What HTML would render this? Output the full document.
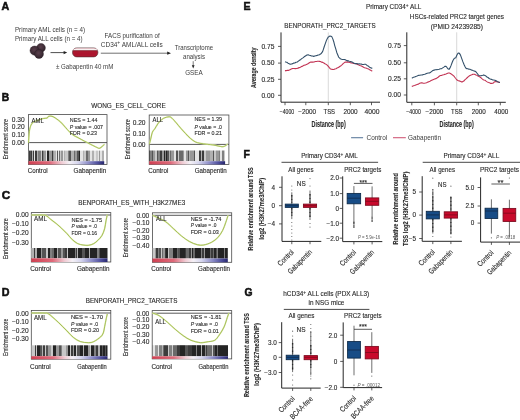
<!DOCTYPE html><html><head><meta charset="utf-8"><style>html,body{margin:0;padding:0;background:#fff;}svg{display:block;will-change:transform;filter:blur(0.4px);}text{font-family:"Liberation Sans",sans-serif;fill:#2a2a2a;stroke:#2a2a2a;stroke-width:0.12px;}.lt{fill:#3c3c3c;stroke:none;}.lt2{fill:#5a5a5a;stroke:none;}</style></head><body>
<svg width="520" height="420" viewBox="0 0 520 420">
<defs><linearGradient id="cb" x1="0" x2="1" y1="0" y2="0"><stop offset="0" stop-color="#cf4052"/><stop offset="0.28" stop-color="#de6a7a"/><stop offset="0.44" stop-color="#f0ccd4"/><stop offset="0.54" stop-color="#f5f1f6"/><stop offset="0.65" stop-color="#d6d6ee"/><stop offset="0.8" stop-color="#8a8ac6"/><stop offset="0.92" stop-color="#4c4c9a"/><stop offset="1" stop-color="#26266c"/></linearGradient><radialGradient id="cellg" cx="0.45" cy="0.4" r="0.65"><stop offset="0" stop-color="#5a3f4c"/><stop offset="0.7" stop-color="#3a2a33"/><stop offset="1" stop-color="#2a1c24"/></radialGradient></defs>
<rect width="520" height="420" fill="#fff"/>
<text x="1.39" y="9.55" font-size="10.70" font-weight="bold" style="fill:#111;stroke:#111;stroke-width:0.55px">A</text>
<text x="1.69" y="100.85" font-size="10.29" font-weight="bold" style="fill:#111;stroke:#111;stroke-width:0.55px">B</text>
<text x="1.67" y="199.25" font-size="11.66" font-weight="bold" style="fill:#111;stroke:#111;stroke-width:0.55px">C</text>
<text x="1.69" y="296.35" font-size="10.70" font-weight="bold" style="fill:#111;stroke:#111;stroke-width:0.55px">D</text>
<text x="243.39" y="10.35" font-size="10.56" font-weight="bold" style="fill:#111;stroke:#111;stroke-width:0.55px">E</text>
<text x="243.49" y="157.65" font-size="10.43" font-weight="bold" style="fill:#111;stroke:#111;stroke-width:0.55px">F</text>
<text x="244.39" y="296.45" font-size="10.29" font-weight="bold" style="fill:#111;stroke:#111;stroke-width:0.55px">G</text>
<text x="14.90" y="32.00" font-size="6.3" textLength="70.20" lengthAdjust="spacingAndGlyphs" class="lt">Primary AML cells (n = 4)</text>
<text x="14.90" y="40.50" font-size="6.3" textLength="67.70" lengthAdjust="spacingAndGlyphs" class="lt">Primary ALL cells (n = 4)</text>
<circle cx="41.0" cy="47.8" r="4.4" fill="url(#cellg)" stroke="#2a1f27" stroke-width="0.4"/>
<circle cx="34.6" cy="50.6" r="4.6" fill="url(#cellg)" stroke="#2a1f27" stroke-width="0.4"/>
<circle cx="39.0" cy="54.0" r="4.5" fill="url(#cellg)" stroke="#2a1f27" stroke-width="0.4"/>
<line x1="50.50" y1="52.60" x2="64.50" y2="52.60" stroke="#222" stroke-width="0.8"/>
<path d="M67.2,52.6 L63.6,51.0 L63.6,54.2 Z" fill="#222"/>
<rect x="72.5" y="47.9" width="25.4" height="9.0" rx="4.3" ry="4.3" fill="#ae1830" stroke="#4a2a2e" stroke-width="0.6"/>
<path d="M76.8,48.2 L93.6,48.2 Q97.3,48.4 97.6,50.6 L72.8,50.6 Q73.1,48.4 76.8,48.2 Z" fill="#f6f2f2"/>
<line x1="72.9" y1="50.7" x2="97.5" y2="50.7" stroke="#6a1822" stroke-width="0.6"/>
<rect x="74.5" y="52.6" width="21.5" height="2.6" fill="#a8102a" opacity="0.5"/>
<line x1="100.80" y1="53.20" x2="168.00" y2="53.20" stroke="#333" stroke-width="0.7"/>
<path d="M171.0,53.2 L167.2,51.6 L167.2,54.8 Z" fill="#222"/>
<text x="104.60" y="38.00" font-size="6.3" textLength="55.10" lengthAdjust="spacingAndGlyphs" class="lt">FACS purification of</text>
<text x="100.80" y="46.50" font-size="6.3" textLength="62.00" lengthAdjust="spacingAndGlyphs" class="lt">CD34<tspan font-size="4.8" dy="-2.1">+</tspan><tspan dy="2.1"> AML/ALL cells</tspan></text>
<text x="56.00" y="69.20" font-size="6.3" textLength="57.30" lengthAdjust="spacingAndGlyphs" class="lt">± Gabapentin 40 mM</text>
<text x="174.80" y="50.20" font-size="6.3" textLength="38.20" lengthAdjust="spacingAndGlyphs" class="lt">Transcriptome</text>
<text x="183.00" y="58.60" font-size="6.3" textLength="22.00" lengthAdjust="spacingAndGlyphs" class="lt">analysis</text>
<line x1="193.20" y1="61.20" x2="193.20" y2="66.00" stroke="#222" stroke-width="0.6"/>
<path d="M193.2,68.4 L191.8,65.3 L194.6,65.3 Z" fill="#222"/>
<text x="185.20" y="75.20" font-size="6.3" textLength="17.50" lengthAdjust="spacingAndGlyphs" class="lt">GSEA</text>
<rect x="28.50" y="114.60" width="78.50" height="49.90" fill="none" stroke="#4a4a4a" stroke-width="0.8"/>
<rect x="28.50" y="150.60" width="0.50" height="10.60" fill="#808080"/>
<rect x="29.00" y="150.60" width="1.00" height="10.60" fill="#3c3c3c"/>
<rect x="30.00" y="150.60" width="1.00" height="10.60" fill="#545454"/>
<rect x="31.00" y="150.60" width="1.00" height="10.60" fill="#3c3c3c"/>
<rect x="32.00" y="150.60" width="1.00" height="10.60" fill="#b0b0b0"/>
<rect x="33.00" y="150.60" width="1.00" height="10.60" fill="#3c3c3c"/>
<rect x="34.00" y="150.60" width="1.00" height="10.60" fill="#e4e4e4"/>
<rect x="35.00" y="150.60" width="1.00" height="10.60" fill="#3c3c3c"/>
<rect x="36.00" y="150.60" width="1.00" height="10.60" fill="#3c3c3c"/>
<rect x="37.00" y="150.60" width="1.00" height="10.60" fill="#b0b0b0"/>
<rect x="38.00" y="150.60" width="1.00" height="10.60" fill="#808080"/>
<rect x="39.00" y="150.60" width="1.00" height="10.60" fill="#808080"/>
<rect x="40.00" y="150.60" width="1.00" height="10.60" fill="#808080"/>
<rect x="41.00" y="150.60" width="1.00" height="10.60" fill="#c8c8c8"/>
<rect x="42.00" y="150.60" width="1.00" height="10.60" fill="#3c3c3c"/>
<rect x="43.00" y="150.60" width="1.00" height="10.60" fill="#808080"/>
<rect x="44.00" y="150.60" width="1.00" height="10.60" fill="#989898"/>
<rect x="45.00" y="150.60" width="1.00" height="10.60" fill="#989898"/>
<rect x="46.00" y="150.60" width="1.00" height="10.60" fill="#e4e4e4"/>
<rect x="47.00" y="150.60" width="1.00" height="10.60" fill="#242424"/>
<rect x="48.00" y="150.60" width="1.00" height="10.60" fill="#242424"/>
<rect x="49.00" y="150.60" width="1.00" height="10.60" fill="#989898"/>
<rect x="50.00" y="150.60" width="1.00" height="10.60" fill="#989898"/>
<rect x="51.00" y="150.60" width="1.00" height="10.60" fill="#989898"/>
<rect x="52.00" y="150.60" width="1.00" height="10.60" fill="#3c3c3c"/>
<rect x="53.00" y="150.60" width="1.00" height="10.60" fill="#989898"/>
<rect x="54.00" y="150.60" width="1.00" height="10.60" fill="#b0b0b0"/>
<rect x="55.00" y="150.60" width="1.00" height="10.60" fill="#b0b0b0"/>
<rect x="56.00" y="150.60" width="1.00" height="10.60" fill="#e4e4e4"/>
<rect x="57.00" y="150.60" width="1.00" height="10.60" fill="#545454"/>
<rect x="58.00" y="150.60" width="1.00" height="10.60" fill="#e4e4e4"/>
<rect x="59.00" y="150.60" width="1.00" height="10.60" fill="#6a6a6a"/>
<rect x="60.00" y="150.60" width="1.00" height="10.60" fill="#c8c8c8"/>
<rect x="61.00" y="150.60" width="1.00" height="10.60" fill="#989898"/>
<rect x="62.00" y="150.60" width="1.00" height="10.60" fill="#989898"/>
<rect x="63.00" y="150.60" width="1.00" height="10.60" fill="#e4e4e4"/>
<rect x="64.00" y="150.60" width="1.00" height="10.60" fill="#b0b0b0"/>
<rect x="65.00" y="150.60" width="1.00" height="10.60" fill="#c8c8c8"/>
<rect x="66.00" y="150.60" width="1.00" height="10.60" fill="#c8c8c8"/>
<rect x="67.00" y="150.60" width="1.00" height="10.60" fill="#c8c8c8"/>
<rect x="68.00" y="150.60" width="1.00" height="10.60" fill="#808080"/>
<rect x="69.00" y="150.60" width="1.00" height="10.60" fill="#545454"/>
<rect x="70.00" y="150.60" width="1.00" height="10.60" fill="#545454"/>
<rect x="71.00" y="150.60" width="1.00" height="10.60" fill="#b0b0b0"/>
<rect x="72.00" y="150.60" width="1.00" height="10.60" fill="#b0b0b0"/>
<rect x="73.00" y="150.60" width="1.00" height="10.60" fill="#b0b0b0"/>
<rect x="74.00" y="150.60" width="1.00" height="10.60" fill="#6a6a6a"/>
<rect x="75.00" y="150.60" width="1.00" height="10.60" fill="#989898"/>
<rect x="76.00" y="150.60" width="1.00" height="10.60" fill="#989898"/>
<rect x="77.00" y="150.60" width="1.00" height="10.60" fill="#545454"/>
<rect x="78.00" y="150.60" width="1.00" height="10.60" fill="#545454"/>
<rect x="79.00" y="150.60" width="1.00" height="10.60" fill="#242424"/>
<rect x="80.00" y="150.60" width="1.00" height="10.60" fill="#e4e4e4"/>
<rect x="81.00" y="150.60" width="1.00" height="10.60" fill="#e4e4e4"/>
<rect x="82.00" y="150.60" width="1.00" height="10.60" fill="#e4e4e4"/>
<rect x="83.00" y="150.60" width="1.00" height="10.60" fill="#b0b0b0"/>
<rect x="84.00" y="150.60" width="1.00" height="10.60" fill="#c8c8c8"/>
<rect x="85.00" y="150.60" width="1.00" height="10.60" fill="#c8c8c8"/>
<rect x="86.00" y="150.60" width="1.00" height="10.60" fill="#6a6a6a"/>
<rect x="87.00" y="150.60" width="1.00" height="10.60" fill="#6a6a6a"/>
<rect x="88.00" y="150.60" width="1.00" height="10.60" fill="#989898"/>
<rect x="89.00" y="150.60" width="1.00" height="10.60" fill="#989898"/>
<rect x="90.00" y="150.60" width="1.00" height="10.60" fill="#e4e4e4"/>
<rect x="91.00" y="150.60" width="1.00" height="10.60" fill="#e4e4e4"/>
<rect x="92.00" y="150.60" width="1.00" height="10.60" fill="#b0b0b0"/>
<rect x="93.00" y="150.60" width="1.00" height="10.60" fill="#b0b0b0"/>
<rect x="94.00" y="150.60" width="1.00" height="10.60" fill="#e4e4e4"/>
<rect x="95.00" y="150.60" width="1.00" height="10.60" fill="#e4e4e4"/>
<rect x="96.00" y="150.60" width="1.00" height="10.60" fill="#c8c8c8"/>
<rect x="97.00" y="150.60" width="1.00" height="10.60" fill="#c8c8c8"/>
<rect x="98.00" y="150.60" width="1.00" height="10.60" fill="#e4e4e4"/>
<rect x="99.00" y="150.60" width="1.00" height="10.60" fill="#989898"/>
<rect x="100.00" y="150.60" width="1.00" height="10.60" fill="#e4e4e4"/>
<rect x="101.00" y="150.60" width="1.00" height="10.60" fill="#e4e4e4"/>
<rect x="102.00" y="150.60" width="1.00" height="10.60" fill="#b0b0b0"/>
<rect x="103.00" y="150.60" width="1.00" height="10.60" fill="#b0b0b0"/>
<rect x="28.50" y="161.20" width="75.70" height="3.30" fill="url(#cb)"/>
<line x1="28.50" y1="142.60" x2="107.00" y2="142.60" stroke="#3a3a3a" stroke-width="0.85"/>
<path d="M28.50,142.80 C28.65,140.87 29.02,134.08 29.40,131.20 C29.78,128.32 30.23,126.93 30.80,125.50 C31.37,124.07 31.98,123.33 32.80,122.60 C33.62,121.87 34.58,121.58 35.70,121.10 C36.82,120.62 38.23,120.13 39.50,119.70 C40.77,119.27 42.02,118.78 43.30,118.50 C44.58,118.22 46.32,118.37 47.20,118.00 C48.08,117.63 47.80,116.58 48.60,116.30 C49.40,116.02 50.80,115.97 52.00,116.30 C53.20,116.63 54.35,117.33 55.80,118.30 C57.25,119.27 59.08,120.58 60.70,122.10 C62.32,123.62 64.07,125.80 65.50,127.40 C66.93,129.00 68.02,130.42 69.30,131.70 C70.58,132.98 71.70,134.08 73.20,135.10 C74.70,136.12 76.42,136.78 78.30,137.80 C80.18,138.82 82.45,140.12 84.50,141.20 C86.55,142.28 88.55,143.27 90.60,144.30 C92.65,145.33 95.27,146.75 96.80,147.40 C98.33,148.05 98.52,148.72 99.80,148.20 C101.08,147.68 103.72,144.95 104.50,144.30" fill="none" stroke="#e0eab0" stroke-width="1.5" stroke-linejoin="round"/>
<path d="M28.50,142.80 C28.65,140.87 29.02,134.08 29.40,131.20 C29.78,128.32 30.23,126.93 30.80,125.50 C31.37,124.07 31.98,123.33 32.80,122.60 C33.62,121.87 34.58,121.58 35.70,121.10 C36.82,120.62 38.23,120.13 39.50,119.70 C40.77,119.27 42.02,118.78 43.30,118.50 C44.58,118.22 46.32,118.37 47.20,118.00 C48.08,117.63 47.80,116.58 48.60,116.30 C49.40,116.02 50.80,115.97 52.00,116.30 C53.20,116.63 54.35,117.33 55.80,118.30 C57.25,119.27 59.08,120.58 60.70,122.10 C62.32,123.62 64.07,125.80 65.50,127.40 C66.93,129.00 68.02,130.42 69.30,131.70 C70.58,132.98 71.70,134.08 73.20,135.10 C74.70,136.12 76.42,136.78 78.30,137.80 C80.18,138.82 82.45,140.12 84.50,141.20 C86.55,142.28 88.55,143.27 90.60,144.30 C92.65,145.33 95.27,146.75 96.80,147.40 C98.33,148.05 98.52,148.72 99.80,148.20 C101.08,147.68 103.72,144.95 104.50,144.30" fill="none" stroke="#92b03e" stroke-width="0.75" stroke-linejoin="round"/>
<text x="24.70" y="121.68" font-size="6.6" text-anchor="end">0.30</text>
<text x="24.70" y="129.48" font-size="6.6" text-anchor="end">0.20</text>
<text x="24.70" y="137.28" font-size="6.6" text-anchor="end">0.10</text>
<text x="24.70" y="145.08" font-size="6.6" text-anchor="end">0.00</text>
<text x="31.50" y="122.80" font-size="6.4" textLength="12.20" lengthAdjust="spacingAndGlyphs">AML</text>
<text x="69.80" y="121.86" font-size="6.0" textLength="27.70" lengthAdjust="spacingAndGlyphs">NES = 1.44</text>
<text x="69.80" y="128.76" font-size="6.0" textLength="33.10" lengthAdjust="spacingAndGlyphs"><tspan font-style="italic">P</tspan> value = .007</text>
<text x="69.80" y="134.96" font-size="6.0" textLength="27.20" lengthAdjust="spacingAndGlyphs">FDR = 0.23</text>
<text x="27.80" y="173.00" font-size="6.4" textLength="19.90" lengthAdjust="spacingAndGlyphs">Control</text>
<text x="73.60" y="173.00" font-size="6.4" textLength="32.60" lengthAdjust="spacingAndGlyphs">Gabapentin</text>
<text transform="translate(4.80,139.35) rotate(-90)" x="0" y="2.88" font-size="8.0" text-anchor="middle" textLength="40.30" lengthAdjust="spacingAndGlyphs" fill="#2b2b2b">Enrichment score</text>
<rect x="149.20" y="115.00" width="79.70" height="49.50" fill="none" stroke="#4a4a4a" stroke-width="0.8"/>
<rect x="149.20" y="150.50" width="0.80" height="10.70" fill="#3c3c3c"/>
<rect x="150.00" y="150.50" width="1.00" height="10.70" fill="#808080"/>
<rect x="151.00" y="150.50" width="1.00" height="10.70" fill="#808080"/>
<rect x="152.00" y="150.50" width="1.00" height="10.70" fill="#545454"/>
<rect x="153.00" y="150.50" width="1.00" height="10.70" fill="#989898"/>
<rect x="154.00" y="150.50" width="1.00" height="10.70" fill="#989898"/>
<rect x="155.00" y="150.50" width="1.00" height="10.70" fill="#c8c8c8"/>
<rect x="156.00" y="150.50" width="1.00" height="10.70" fill="#c8c8c8"/>
<rect x="157.00" y="150.50" width="1.00" height="10.70" fill="#545454"/>
<rect x="158.00" y="150.50" width="1.00" height="10.70" fill="#808080"/>
<rect x="159.00" y="150.50" width="1.00" height="10.70" fill="#808080"/>
<rect x="160.00" y="150.50" width="1.00" height="10.70" fill="#3c3c3c"/>
<rect x="161.00" y="150.50" width="1.00" height="10.70" fill="#3c3c3c"/>
<rect x="162.00" y="150.50" width="1.00" height="10.70" fill="#989898"/>
<rect x="163.00" y="150.50" width="1.00" height="10.70" fill="#989898"/>
<rect x="164.00" y="150.50" width="1.00" height="10.70" fill="#242424"/>
<rect x="165.00" y="150.50" width="1.00" height="10.70" fill="#808080"/>
<rect x="166.00" y="150.50" width="1.00" height="10.70" fill="#242424"/>
<rect x="167.00" y="150.50" width="1.00" height="10.70" fill="#545454"/>
<rect x="168.00" y="150.50" width="1.00" height="10.70" fill="#545454"/>
<rect x="169.00" y="150.50" width="1.00" height="10.70" fill="#b0b0b0"/>
<rect x="170.00" y="150.50" width="1.00" height="10.70" fill="#6a6a6a"/>
<rect x="171.00" y="150.50" width="1.00" height="10.70" fill="#989898"/>
<rect x="172.00" y="150.50" width="1.00" height="10.70" fill="#989898"/>
<rect x="173.00" y="150.50" width="1.00" height="10.70" fill="#989898"/>
<rect x="174.00" y="150.50" width="1.00" height="10.70" fill="#e4e4e4"/>
<rect x="175.00" y="150.50" width="1.00" height="10.70" fill="#e4e4e4"/>
<rect x="176.00" y="150.50" width="1.00" height="10.70" fill="#545454"/>
<rect x="177.00" y="150.50" width="1.00" height="10.70" fill="#545454"/>
<rect x="178.00" y="150.50" width="1.00" height="10.70" fill="#c8c8c8"/>
<rect x="179.00" y="150.50" width="1.00" height="10.70" fill="#6a6a6a"/>
<rect x="180.00" y="150.50" width="1.00" height="10.70" fill="#6a6a6a"/>
<rect x="181.00" y="150.50" width="1.00" height="10.70" fill="#6a6a6a"/>
<rect x="182.00" y="150.50" width="1.00" height="10.70" fill="#6a6a6a"/>
<rect x="183.00" y="150.50" width="1.00" height="10.70" fill="#989898"/>
<rect x="184.00" y="150.50" width="1.00" height="10.70" fill="#e4e4e4"/>
<rect x="185.00" y="150.50" width="1.00" height="10.70" fill="#e4e4e4"/>
<rect x="186.00" y="150.50" width="1.00" height="10.70" fill="#989898"/>
<rect x="187.00" y="150.50" width="1.00" height="10.70" fill="#989898"/>
<rect x="188.00" y="150.50" width="1.00" height="10.70" fill="#545454"/>
<rect x="189.00" y="150.50" width="1.00" height="10.70" fill="#b0b0b0"/>
<rect x="190.00" y="150.50" width="1.00" height="10.70" fill="#989898"/>
<rect x="191.00" y="150.50" width="1.00" height="10.70" fill="#989898"/>
<rect x="192.00" y="150.50" width="1.00" height="10.70" fill="#989898"/>
<rect x="193.00" y="150.50" width="1.00" height="10.70" fill="#989898"/>
<rect x="194.00" y="150.50" width="1.00" height="10.70" fill="#545454"/>
<rect x="195.00" y="150.50" width="1.00" height="10.70" fill="#e4e4e4"/>
<rect x="196.00" y="150.50" width="1.00" height="10.70" fill="#e4e4e4"/>
<rect x="197.00" y="150.50" width="1.00" height="10.70" fill="#e4e4e4"/>
<rect x="198.00" y="150.50" width="1.00" height="10.70" fill="#e4e4e4"/>
<rect x="199.00" y="150.50" width="1.00" height="10.70" fill="#3c3c3c"/>
<rect x="200.00" y="150.50" width="1.00" height="10.70" fill="#3c3c3c"/>
<rect x="201.00" y="150.50" width="1.00" height="10.70" fill="#b0b0b0"/>
<rect x="202.00" y="150.50" width="1.00" height="10.70" fill="#3c3c3c"/>
<rect x="203.00" y="150.50" width="1.00" height="10.70" fill="#3c3c3c"/>
<rect x="204.00" y="150.50" width="1.00" height="10.70" fill="#c8c8c8"/>
<rect x="205.00" y="150.50" width="1.00" height="10.70" fill="#c8c8c8"/>
<rect x="206.00" y="150.50" width="1.00" height="10.70" fill="#989898"/>
<rect x="207.00" y="150.50" width="1.00" height="10.70" fill="#989898"/>
<rect x="208.00" y="150.50" width="1.00" height="10.70" fill="#989898"/>
<rect x="209.00" y="150.50" width="1.00" height="10.70" fill="#989898"/>
<rect x="210.00" y="150.50" width="1.00" height="10.70" fill="#b0b0b0"/>
<rect x="211.00" y="150.50" width="1.00" height="10.70" fill="#b0b0b0"/>
<rect x="212.00" y="150.50" width="1.00" height="10.70" fill="#b0b0b0"/>
<rect x="213.00" y="150.50" width="1.00" height="10.70" fill="#545454"/>
<rect x="214.00" y="150.50" width="1.00" height="10.70" fill="#c8c8c8"/>
<rect x="215.00" y="150.50" width="1.00" height="10.70" fill="#c8c8c8"/>
<rect x="216.00" y="150.50" width="1.00" height="10.70" fill="#989898"/>
<rect x="217.00" y="150.50" width="1.00" height="10.70" fill="#989898"/>
<rect x="218.00" y="150.50" width="1.00" height="10.70" fill="#989898"/>
<rect x="219.00" y="150.50" width="1.00" height="10.70" fill="#808080"/>
<rect x="220.00" y="150.50" width="1.00" height="10.70" fill="#e4e4e4"/>
<rect x="221.00" y="150.50" width="1.00" height="10.70" fill="#e4e4e4"/>
<rect x="222.00" y="150.50" width="1.00" height="10.70" fill="#808080"/>
<rect x="223.00" y="150.50" width="1.00" height="10.70" fill="#808080"/>
<rect x="224.00" y="150.50" width="1.00" height="10.70" fill="#c8c8c8"/>
<rect x="149.20" y="161.20" width="75.90" height="3.30" fill="url(#cb)"/>
<line x1="149.20" y1="144.40" x2="228.90" y2="144.40" stroke="#3a3a3a" stroke-width="0.85"/>
<path d="M149.30,144.30 C149.50,143.57 149.98,141.92 150.50,139.90 C151.02,137.88 151.68,134.05 152.40,132.20 C153.12,130.35 153.92,130.17 154.80,128.80 C155.68,127.43 156.90,125.20 157.70,124.00 C158.50,122.80 158.63,122.55 159.60,121.60 C160.57,120.65 161.90,119.10 163.50,118.30 C165.10,117.50 167.77,116.80 169.20,116.80 C170.63,116.80 170.97,117.33 172.10,118.30 C173.23,119.27 174.55,120.93 176.00,122.60 C177.45,124.27 179.20,126.47 180.80,128.30 C182.40,130.13 184.00,131.92 185.60,133.60 C187.20,135.28 188.80,137.03 190.40,138.40 C192.00,139.77 193.60,140.98 195.20,141.80 C196.80,142.62 197.97,142.88 200.00,143.30 C202.03,143.72 205.08,144.00 207.40,144.30 C209.72,144.60 211.48,144.70 213.90,145.10 C216.32,145.50 220.02,146.57 221.90,146.70 C223.78,146.83 224.25,146.35 225.20,145.90 C226.15,145.45 227.20,144.32 227.60,144.00" fill="none" stroke="#e0eab0" stroke-width="1.5" stroke-linejoin="round"/>
<path d="M149.30,144.30 C149.50,143.57 149.98,141.92 150.50,139.90 C151.02,137.88 151.68,134.05 152.40,132.20 C153.12,130.35 153.92,130.17 154.80,128.80 C155.68,127.43 156.90,125.20 157.70,124.00 C158.50,122.80 158.63,122.55 159.60,121.60 C160.57,120.65 161.90,119.10 163.50,118.30 C165.10,117.50 167.77,116.80 169.20,116.80 C170.63,116.80 170.97,117.33 172.10,118.30 C173.23,119.27 174.55,120.93 176.00,122.60 C177.45,124.27 179.20,126.47 180.80,128.30 C182.40,130.13 184.00,131.92 185.60,133.60 C187.20,135.28 188.80,137.03 190.40,138.40 C192.00,139.77 193.60,140.98 195.20,141.80 C196.80,142.62 197.97,142.88 200.00,143.30 C202.03,143.72 205.08,144.00 207.40,144.30 C209.72,144.60 211.48,144.70 213.90,145.10 C216.32,145.50 220.02,146.57 221.90,146.70 C223.78,146.83 224.25,146.35 225.20,145.90 C226.15,145.45 227.20,144.32 227.60,144.00" fill="none" stroke="#92b03e" stroke-width="0.75" stroke-linejoin="round"/>
<text x="145.50" y="125.38" font-size="6.6" text-anchor="end">0.20</text>
<text x="145.50" y="136.08" font-size="6.6" text-anchor="end">0.10</text>
<text x="145.50" y="146.68" font-size="6.6" text-anchor="end">0.00</text>
<text x="152.50" y="122.30" font-size="6.4" textLength="10.50" lengthAdjust="spacingAndGlyphs">ALL</text>
<text x="194.50" y="121.46" font-size="6.0" textLength="27.40" lengthAdjust="spacingAndGlyphs">NES = 1.39</text>
<text x="194.50" y="128.66" font-size="6.0" textLength="27.40" lengthAdjust="spacingAndGlyphs"><tspan font-style="italic">P</tspan> value = .0</text>
<text x="194.50" y="134.86" font-size="6.0" textLength="27.40" lengthAdjust="spacingAndGlyphs">FDR = 0.21</text>
<text x="148.20" y="172.90" font-size="6.4" textLength="20.10" lengthAdjust="spacingAndGlyphs">Control</text>
<text x="194.80" y="172.90" font-size="6.4" textLength="32.00" lengthAdjust="spacingAndGlyphs">Gabapentin</text>
<text transform="translate(127.20,139.50) rotate(-90)" x="0" y="2.88" font-size="8.0" text-anchor="middle" textLength="40.00" lengthAdjust="spacingAndGlyphs" fill="#2b2b2b">Enrichment score</text>
<rect x="31.30" y="212.60" width="79.50" height="49.40" fill="none" stroke="#4a4a4a" stroke-width="0.8"/>
<rect x="31.30" y="248.00" width="0.70" height="10.30" fill="#b0b0b0"/>
<rect x="32.00" y="248.00" width="1.00" height="10.30" fill="#b0b0b0"/>
<rect x="33.00" y="248.00" width="1.00" height="10.30" fill="#b0b0b0"/>
<rect x="34.00" y="248.00" width="1.00" height="10.30" fill="#3c3c3c"/>
<rect x="35.00" y="248.00" width="1.00" height="10.30" fill="#b0b0b0"/>
<rect x="36.00" y="248.00" width="1.00" height="10.30" fill="#b0b0b0"/>
<rect x="37.00" y="248.00" width="1.00" height="10.30" fill="#242424"/>
<rect x="38.00" y="248.00" width="1.00" height="10.30" fill="#242424"/>
<rect x="39.00" y="248.00" width="1.00" height="10.30" fill="#242424"/>
<rect x="40.00" y="248.00" width="1.00" height="10.30" fill="#242424"/>
<rect x="41.00" y="248.00" width="1.00" height="10.30" fill="#989898"/>
<rect x="42.00" y="248.00" width="1.00" height="10.30" fill="#545454"/>
<rect x="43.00" y="248.00" width="1.00" height="10.30" fill="#545454"/>
<rect x="44.00" y="248.00" width="1.00" height="10.30" fill="#545454"/>
<rect x="45.00" y="248.00" width="1.00" height="10.30" fill="#545454"/>
<rect x="46.00" y="248.00" width="1.00" height="10.30" fill="#c8c8c8"/>
<rect x="47.00" y="248.00" width="1.00" height="10.30" fill="#c8c8c8"/>
<rect x="48.00" y="248.00" width="1.00" height="10.30" fill="#242424"/>
<rect x="49.00" y="248.00" width="1.00" height="10.30" fill="#242424"/>
<rect x="50.00" y="248.00" width="1.00" height="10.30" fill="#808080"/>
<rect x="51.00" y="248.00" width="1.00" height="10.30" fill="#808080"/>
<rect x="52.00" y="248.00" width="1.00" height="10.30" fill="#6a6a6a"/>
<rect x="53.00" y="248.00" width="1.00" height="10.30" fill="#6a6a6a"/>
<rect x="54.00" y="248.00" width="1.00" height="10.30" fill="#242424"/>
<rect x="55.00" y="248.00" width="1.00" height="10.30" fill="#242424"/>
<rect x="56.00" y="248.00" width="1.00" height="10.30" fill="#242424"/>
<rect x="57.00" y="248.00" width="1.00" height="10.30" fill="#b0b0b0"/>
<rect x="58.00" y="248.00" width="1.00" height="10.30" fill="#545454"/>
<rect x="59.00" y="248.00" width="1.00" height="10.30" fill="#545454"/>
<rect x="60.00" y="248.00" width="1.00" height="10.30" fill="#545454"/>
<rect x="61.00" y="248.00" width="1.00" height="10.30" fill="#989898"/>
<rect x="62.00" y="248.00" width="1.00" height="10.30" fill="#989898"/>
<rect x="63.00" y="248.00" width="1.00" height="10.30" fill="#545454"/>
<rect x="64.00" y="248.00" width="1.00" height="10.30" fill="#545454"/>
<rect x="65.00" y="248.00" width="1.00" height="10.30" fill="#3c3c3c"/>
<rect x="66.00" y="248.00" width="1.00" height="10.30" fill="#3c3c3c"/>
<rect x="67.00" y="248.00" width="1.00" height="10.30" fill="#c8c8c8"/>
<rect x="68.00" y="248.00" width="1.00" height="10.30" fill="#242424"/>
<rect x="69.00" y="248.00" width="1.00" height="10.30" fill="#242424"/>
<rect x="70.00" y="248.00" width="1.00" height="10.30" fill="#242424"/>
<rect x="71.00" y="248.00" width="1.00" height="10.30" fill="#242424"/>
<rect x="72.00" y="248.00" width="1.00" height="10.30" fill="#242424"/>
<rect x="73.00" y="248.00" width="1.00" height="10.30" fill="#242424"/>
<rect x="74.00" y="248.00" width="1.00" height="10.30" fill="#242424"/>
<rect x="75.00" y="248.00" width="1.00" height="10.30" fill="#808080"/>
<rect x="76.00" y="248.00" width="1.00" height="10.30" fill="#3c3c3c"/>
<rect x="77.00" y="248.00" width="1.00" height="10.30" fill="#b0b0b0"/>
<rect x="78.00" y="248.00" width="1.00" height="10.30" fill="#242424"/>
<rect x="79.00" y="248.00" width="1.00" height="10.30" fill="#242424"/>
<rect x="80.00" y="248.00" width="1.00" height="10.30" fill="#242424"/>
<rect x="81.00" y="248.00" width="1.00" height="10.30" fill="#242424"/>
<rect x="82.00" y="248.00" width="1.00" height="10.30" fill="#545454"/>
<rect x="83.00" y="248.00" width="1.00" height="10.30" fill="#545454"/>
<rect x="84.00" y="248.00" width="1.00" height="10.30" fill="#545454"/>
<rect x="85.00" y="248.00" width="1.00" height="10.30" fill="#242424"/>
<rect x="86.00" y="248.00" width="1.00" height="10.30" fill="#242424"/>
<rect x="87.00" y="248.00" width="1.00" height="10.30" fill="#242424"/>
<rect x="88.00" y="248.00" width="1.00" height="10.30" fill="#242424"/>
<rect x="89.00" y="248.00" width="1.00" height="10.30" fill="#b0b0b0"/>
<rect x="90.00" y="248.00" width="1.00" height="10.30" fill="#242424"/>
<rect x="91.00" y="248.00" width="1.00" height="10.30" fill="#242424"/>
<rect x="92.00" y="248.00" width="1.00" height="10.30" fill="#242424"/>
<rect x="93.00" y="248.00" width="1.00" height="10.30" fill="#242424"/>
<rect x="94.00" y="248.00" width="1.00" height="10.30" fill="#242424"/>
<rect x="95.00" y="248.00" width="1.00" height="10.30" fill="#242424"/>
<rect x="96.00" y="248.00" width="1.00" height="10.30" fill="#242424"/>
<rect x="97.00" y="248.00" width="1.00" height="10.30" fill="#808080"/>
<rect x="98.00" y="248.00" width="1.00" height="10.30" fill="#808080"/>
<rect x="99.00" y="248.00" width="1.00" height="10.30" fill="#545454"/>
<rect x="100.00" y="248.00" width="1.00" height="10.30" fill="#242424"/>
<rect x="101.00" y="248.00" width="1.00" height="10.30" fill="#242424"/>
<rect x="102.00" y="248.00" width="1.00" height="10.30" fill="#242424"/>
<rect x="103.00" y="248.00" width="1.00" height="10.30" fill="#242424"/>
<rect x="104.00" y="248.00" width="1.00" height="10.30" fill="#242424"/>
<rect x="105.00" y="248.00" width="1.00" height="10.30" fill="#242424"/>
<rect x="106.00" y="248.00" width="1.00" height="10.30" fill="#242424"/>
<rect x="107.00" y="248.00" width="0.50" height="10.30" fill="#242424"/>
<rect x="31.30" y="258.30" width="76.20" height="3.70" fill="url(#cb)"/>
<line x1="31.30" y1="215.00" x2="110.80" y2="215.00" stroke="#3a3a3a" stroke-width="0.85"/>
<path d="M31.30,215.00 C33.08,215.00 39.55,214.92 42.00,215.00 C44.45,215.08 44.53,214.77 46.00,215.50 C47.47,216.23 49.10,218.07 50.80,219.40 C52.50,220.73 54.42,222.03 56.20,223.50 C57.98,224.97 59.72,226.52 61.50,228.20 C63.28,229.88 65.10,231.70 66.90,233.60 C68.70,235.50 70.50,237.93 72.30,239.60 C74.10,241.27 75.90,242.70 77.70,243.60 C79.50,244.50 81.30,244.72 83.10,245.00 C84.90,245.28 86.72,245.53 88.50,245.30 C90.28,245.07 92.23,244.43 93.80,243.60 C95.37,242.77 96.55,241.63 97.90,240.30 C99.25,238.97 100.78,237.52 101.90,235.60 C103.02,233.68 103.92,231.27 104.60,228.80 C105.28,226.33 105.55,223.15 106.00,220.80 C106.45,218.45 107.08,215.72 107.30,214.70" fill="none" stroke="#e0eab0" stroke-width="1.5" stroke-linejoin="round"/>
<path d="M31.30,215.00 C33.08,215.00 39.55,214.92 42.00,215.00 C44.45,215.08 44.53,214.77 46.00,215.50 C47.47,216.23 49.10,218.07 50.80,219.40 C52.50,220.73 54.42,222.03 56.20,223.50 C57.98,224.97 59.72,226.52 61.50,228.20 C63.28,229.88 65.10,231.70 66.90,233.60 C68.70,235.50 70.50,237.93 72.30,239.60 C74.10,241.27 75.90,242.70 77.70,243.60 C79.50,244.50 81.30,244.72 83.10,245.00 C84.90,245.28 86.72,245.53 88.50,245.30 C90.28,245.07 92.23,244.43 93.80,243.60 C95.37,242.77 96.55,241.63 97.90,240.30 C99.25,238.97 100.78,237.52 101.90,235.60 C103.02,233.68 103.92,231.27 104.60,228.80 C105.28,226.33 105.55,223.15 106.00,220.80 C106.45,218.45 107.08,215.72 107.30,214.70" fill="none" stroke="#92b03e" stroke-width="0.75" stroke-linejoin="round"/>
<text x="28.60" y="217.28" font-size="6.6" text-anchor="end">0.00</text>
<text x="28.60" y="226.38" font-size="6.6" text-anchor="end">−0.10</text>
<text x="28.60" y="235.28" font-size="6.6" text-anchor="end">−0.20</text>
<text x="28.60" y="244.78" font-size="6.6" text-anchor="end">−0.30</text>
<text x="34.00" y="221.30" font-size="6.4" textLength="12.90" lengthAdjust="spacingAndGlyphs">AML</text>
<text x="71.40" y="221.56" font-size="6.0" textLength="30.70" lengthAdjust="spacingAndGlyphs">NES = -1.75</text>
<text x="71.40" y="228.26" font-size="6.0" textLength="25.60" lengthAdjust="spacingAndGlyphs"><tspan font-style="italic">P</tspan> value = .0</text>
<text x="71.40" y="234.56" font-size="6.0" textLength="25.60" lengthAdjust="spacingAndGlyphs">FDR = 0.16</text>
<text x="30.20" y="270.60" font-size="6.4" textLength="20.80" lengthAdjust="spacingAndGlyphs">Control</text>
<text x="76.90" y="270.60" font-size="6.4" textLength="32.50" lengthAdjust="spacingAndGlyphs">Gabapentin</text>
<text transform="translate(4.85,238.70) rotate(-90)" x="0" y="2.88" font-size="8.0" text-anchor="middle" textLength="41.00" lengthAdjust="spacingAndGlyphs" fill="#2b2b2b">Enrichment score</text>
<rect x="152.50" y="212.80" width="79.20" height="49.50" fill="none" stroke="#4a4a4a" stroke-width="0.8"/>
<rect x="152.50" y="248.00" width="0.50" height="10.50" fill="#989898"/>
<rect x="153.00" y="248.00" width="1.00" height="10.50" fill="#c8c8c8"/>
<rect x="154.00" y="248.00" width="1.00" height="10.50" fill="#c8c8c8"/>
<rect x="155.00" y="248.00" width="1.00" height="10.50" fill="#989898"/>
<rect x="156.00" y="248.00" width="1.00" height="10.50" fill="#3c3c3c"/>
<rect x="157.00" y="248.00" width="1.00" height="10.50" fill="#3c3c3c"/>
<rect x="158.00" y="248.00" width="1.00" height="10.50" fill="#808080"/>
<rect x="159.00" y="248.00" width="1.00" height="10.50" fill="#545454"/>
<rect x="160.00" y="248.00" width="1.00" height="10.50" fill="#545454"/>
<rect x="161.00" y="248.00" width="1.00" height="10.50" fill="#c8c8c8"/>
<rect x="162.00" y="248.00" width="1.00" height="10.50" fill="#6a6a6a"/>
<rect x="163.00" y="248.00" width="1.00" height="10.50" fill="#989898"/>
<rect x="164.00" y="248.00" width="1.00" height="10.50" fill="#989898"/>
<rect x="165.00" y="248.00" width="1.00" height="10.50" fill="#3c3c3c"/>
<rect x="166.00" y="248.00" width="1.00" height="10.50" fill="#242424"/>
<rect x="167.00" y="248.00" width="1.00" height="10.50" fill="#242424"/>
<rect x="168.00" y="248.00" width="1.00" height="10.50" fill="#c8c8c8"/>
<rect x="169.00" y="248.00" width="1.00" height="10.50" fill="#808080"/>
<rect x="170.00" y="248.00" width="1.00" height="10.50" fill="#808080"/>
<rect x="171.00" y="248.00" width="1.00" height="10.50" fill="#808080"/>
<rect x="172.00" y="248.00" width="1.00" height="10.50" fill="#808080"/>
<rect x="173.00" y="248.00" width="1.00" height="10.50" fill="#242424"/>
<rect x="174.00" y="248.00" width="1.00" height="10.50" fill="#242424"/>
<rect x="175.00" y="248.00" width="1.00" height="10.50" fill="#242424"/>
<rect x="176.00" y="248.00" width="1.00" height="10.50" fill="#242424"/>
<rect x="177.00" y="248.00" width="1.00" height="10.50" fill="#6a6a6a"/>
<rect x="178.00" y="248.00" width="1.00" height="10.50" fill="#545454"/>
<rect x="179.00" y="248.00" width="1.00" height="10.50" fill="#545454"/>
<rect x="180.00" y="248.00" width="1.00" height="10.50" fill="#242424"/>
<rect x="181.00" y="248.00" width="1.00" height="10.50" fill="#242424"/>
<rect x="182.00" y="248.00" width="1.00" height="10.50" fill="#242424"/>
<rect x="183.00" y="248.00" width="1.00" height="10.50" fill="#242424"/>
<rect x="184.00" y="248.00" width="1.00" height="10.50" fill="#242424"/>
<rect x="185.00" y="248.00" width="1.00" height="10.50" fill="#3c3c3c"/>
<rect x="186.00" y="248.00" width="1.00" height="10.50" fill="#6a6a6a"/>
<rect x="187.00" y="248.00" width="1.00" height="10.50" fill="#6a6a6a"/>
<rect x="188.00" y="248.00" width="1.00" height="10.50" fill="#6a6a6a"/>
<rect x="189.00" y="248.00" width="1.00" height="10.50" fill="#3c3c3c"/>
<rect x="190.00" y="248.00" width="1.00" height="10.50" fill="#3c3c3c"/>
<rect x="191.00" y="248.00" width="1.00" height="10.50" fill="#989898"/>
<rect x="192.00" y="248.00" width="1.00" height="10.50" fill="#242424"/>
<rect x="193.00" y="248.00" width="1.00" height="10.50" fill="#6a6a6a"/>
<rect x="194.00" y="248.00" width="1.00" height="10.50" fill="#6a6a6a"/>
<rect x="195.00" y="248.00" width="1.00" height="10.50" fill="#242424"/>
<rect x="196.00" y="248.00" width="1.00" height="10.50" fill="#242424"/>
<rect x="197.00" y="248.00" width="1.00" height="10.50" fill="#242424"/>
<rect x="198.00" y="248.00" width="1.00" height="10.50" fill="#242424"/>
<rect x="199.00" y="248.00" width="1.00" height="10.50" fill="#242424"/>
<rect x="200.00" y="248.00" width="1.00" height="10.50" fill="#242424"/>
<rect x="201.00" y="248.00" width="1.00" height="10.50" fill="#808080"/>
<rect x="202.00" y="248.00" width="1.00" height="10.50" fill="#3c3c3c"/>
<rect x="203.00" y="248.00" width="1.00" height="10.50" fill="#3c3c3c"/>
<rect x="204.00" y="248.00" width="1.00" height="10.50" fill="#989898"/>
<rect x="205.00" y="248.00" width="1.00" height="10.50" fill="#242424"/>
<rect x="206.00" y="248.00" width="1.00" height="10.50" fill="#242424"/>
<rect x="207.00" y="248.00" width="1.00" height="10.50" fill="#242424"/>
<rect x="208.00" y="248.00" width="1.00" height="10.50" fill="#242424"/>
<rect x="209.00" y="248.00" width="1.00" height="10.50" fill="#242424"/>
<rect x="210.00" y="248.00" width="1.00" height="10.50" fill="#6a6a6a"/>
<rect x="211.00" y="248.00" width="1.00" height="10.50" fill="#3c3c3c"/>
<rect x="212.00" y="248.00" width="1.00" height="10.50" fill="#3c3c3c"/>
<rect x="213.00" y="248.00" width="1.00" height="10.50" fill="#6a6a6a"/>
<rect x="214.00" y="248.00" width="1.00" height="10.50" fill="#242424"/>
<rect x="215.00" y="248.00" width="1.00" height="10.50" fill="#242424"/>
<rect x="216.00" y="248.00" width="1.00" height="10.50" fill="#545454"/>
<rect x="217.00" y="248.00" width="1.00" height="10.50" fill="#808080"/>
<rect x="218.00" y="248.00" width="1.00" height="10.50" fill="#242424"/>
<rect x="219.00" y="248.00" width="1.00" height="10.50" fill="#242424"/>
<rect x="220.00" y="248.00" width="1.00" height="10.50" fill="#242424"/>
<rect x="221.00" y="248.00" width="1.00" height="10.50" fill="#242424"/>
<rect x="222.00" y="248.00" width="1.00" height="10.50" fill="#242424"/>
<rect x="223.00" y="248.00" width="1.00" height="10.50" fill="#242424"/>
<rect x="224.00" y="248.00" width="1.00" height="10.50" fill="#808080"/>
<rect x="225.00" y="248.00" width="1.00" height="10.50" fill="#242424"/>
<rect x="226.00" y="248.00" width="1.00" height="10.50" fill="#242424"/>
<rect x="227.00" y="248.00" width="0.80" height="10.50" fill="#242424"/>
<rect x="152.50" y="258.50" width="75.30" height="3.80" fill="url(#cb)"/>
<line x1="152.50" y1="215.30" x2="231.70" y2="215.30" stroke="#3a3a3a" stroke-width="0.85"/>
<path d="M152.50,215.30 C153.42,215.72 155.78,216.72 158.00,217.80 C160.22,218.88 163.18,219.95 165.80,221.80 C168.42,223.65 171.08,226.53 173.70,228.90 C176.32,231.27 178.88,233.90 181.50,236.00 C184.12,238.10 186.77,240.05 189.40,241.50 C192.03,242.95 194.93,244.12 197.30,244.70 C199.67,245.28 201.23,245.40 203.60,245.00 C205.97,244.60 209.13,243.53 211.50,242.30 C213.87,241.07 215.95,239.57 217.80,237.60 C219.65,235.63 221.28,233.00 222.60,230.50 C223.92,228.00 224.78,225.13 225.70,222.60 C226.62,220.07 227.70,216.52 228.10,215.30" fill="none" stroke="#e0eab0" stroke-width="1.5" stroke-linejoin="round"/>
<path d="M152.50,215.30 C153.42,215.72 155.78,216.72 158.00,217.80 C160.22,218.88 163.18,219.95 165.80,221.80 C168.42,223.65 171.08,226.53 173.70,228.90 C176.32,231.27 178.88,233.90 181.50,236.00 C184.12,238.10 186.77,240.05 189.40,241.50 C192.03,242.95 194.93,244.12 197.30,244.70 C199.67,245.28 201.23,245.40 203.60,245.00 C205.97,244.60 209.13,243.53 211.50,242.30 C213.87,241.07 215.95,239.57 217.80,237.60 C219.65,235.63 221.28,233.00 222.60,230.50 C223.92,228.00 224.78,225.13 225.70,222.60 C226.62,220.07 227.70,216.52 228.10,215.30" fill="none" stroke="#92b03e" stroke-width="0.75" stroke-linejoin="round"/>
<text x="149.30" y="217.58" font-size="6.6" text-anchor="end">0.00</text>
<text x="149.30" y="225.38" font-size="6.6" text-anchor="end">−0.10</text>
<text x="149.30" y="232.58" font-size="6.6" text-anchor="end">−0.20</text>
<text x="149.30" y="240.38" font-size="6.6" text-anchor="end">−0.30</text>
<text x="149.30" y="248.18" font-size="6.6" text-anchor="end">−0.40</text>
<text x="156.10" y="221.30" font-size="6.4" textLength="10.50" lengthAdjust="spacingAndGlyphs">ALL</text>
<text x="190.80" y="221.46" font-size="6.0" textLength="30.70" lengthAdjust="spacingAndGlyphs">NES = -1.74</text>
<text x="190.80" y="227.16" font-size="6.0" textLength="25.60" lengthAdjust="spacingAndGlyphs"><tspan font-style="italic">P</tspan> value = .0</text>
<text x="190.80" y="234.06" font-size="6.0" textLength="28.00" lengthAdjust="spacingAndGlyphs">FDR = 0.03</text>
<text x="151.30" y="270.90" font-size="6.4" textLength="20.10" lengthAdjust="spacingAndGlyphs">Control</text>
<text x="198.10" y="270.90" font-size="6.4" textLength="31.90" lengthAdjust="spacingAndGlyphs">Gabapentin</text>
<text transform="translate(124.90,237.65) rotate(-90)" x="0" y="2.88" font-size="8.0" text-anchor="middle" textLength="39.70" lengthAdjust="spacingAndGlyphs" fill="#2b2b2b">Enrichment score</text>
<rect x="31.30" y="310.40" width="79.50" height="48.80" fill="none" stroke="#4a4a4a" stroke-width="0.8"/>
<rect x="31.30" y="345.30" width="0.70" height="10.90" fill="#989898"/>
<rect x="32.00" y="345.30" width="1.00" height="10.90" fill="#c8c8c8"/>
<rect x="33.00" y="345.30" width="1.00" height="10.90" fill="#c8c8c8"/>
<rect x="34.00" y="345.30" width="1.00" height="10.90" fill="#c8c8c8"/>
<rect x="35.00" y="345.30" width="1.00" height="10.90" fill="#3c3c3c"/>
<rect x="36.00" y="345.30" width="1.00" height="10.90" fill="#c8c8c8"/>
<rect x="37.00" y="345.30" width="1.00" height="10.90" fill="#242424"/>
<rect x="38.00" y="345.30" width="1.00" height="10.90" fill="#242424"/>
<rect x="39.00" y="345.30" width="1.00" height="10.90" fill="#242424"/>
<rect x="40.00" y="345.30" width="1.00" height="10.90" fill="#545454"/>
<rect x="41.00" y="345.30" width="1.00" height="10.90" fill="#545454"/>
<rect x="42.00" y="345.30" width="1.00" height="10.90" fill="#b0b0b0"/>
<rect x="43.00" y="345.30" width="1.00" height="10.90" fill="#3c3c3c"/>
<rect x="44.00" y="345.30" width="1.00" height="10.90" fill="#3c3c3c"/>
<rect x="45.00" y="345.30" width="1.00" height="10.90" fill="#c8c8c8"/>
<rect x="46.00" y="345.30" width="1.00" height="10.90" fill="#545454"/>
<rect x="47.00" y="345.30" width="1.00" height="10.90" fill="#545454"/>
<rect x="48.00" y="345.30" width="1.00" height="10.90" fill="#989898"/>
<rect x="49.00" y="345.30" width="1.00" height="10.90" fill="#989898"/>
<rect x="50.00" y="345.30" width="1.00" height="10.90" fill="#989898"/>
<rect x="51.00" y="345.30" width="1.00" height="10.90" fill="#c8c8c8"/>
<rect x="52.00" y="345.30" width="1.00" height="10.90" fill="#c8c8c8"/>
<rect x="53.00" y="345.30" width="1.00" height="10.90" fill="#242424"/>
<rect x="54.00" y="345.30" width="1.00" height="10.90" fill="#242424"/>
<rect x="55.00" y="345.30" width="1.00" height="10.90" fill="#242424"/>
<rect x="56.00" y="345.30" width="1.00" height="10.90" fill="#989898"/>
<rect x="57.00" y="345.30" width="1.00" height="10.90" fill="#989898"/>
<rect x="58.00" y="345.30" width="1.00" height="10.90" fill="#989898"/>
<rect x="59.00" y="345.30" width="1.00" height="10.90" fill="#545454"/>
<rect x="60.00" y="345.30" width="1.00" height="10.90" fill="#545454"/>
<rect x="61.00" y="345.30" width="1.00" height="10.90" fill="#808080"/>
<rect x="62.00" y="345.30" width="1.00" height="10.90" fill="#c8c8c8"/>
<rect x="63.00" y="345.30" width="1.00" height="10.90" fill="#c8c8c8"/>
<rect x="64.00" y="345.30" width="1.00" height="10.90" fill="#c8c8c8"/>
<rect x="65.00" y="345.30" width="1.00" height="10.90" fill="#c8c8c8"/>
<rect x="66.00" y="345.30" width="1.00" height="10.90" fill="#989898"/>
<rect x="67.00" y="345.30" width="1.00" height="10.90" fill="#989898"/>
<rect x="68.00" y="345.30" width="1.00" height="10.90" fill="#242424"/>
<rect x="69.00" y="345.30" width="1.00" height="10.90" fill="#242424"/>
<rect x="70.00" y="345.30" width="1.00" height="10.90" fill="#c8c8c8"/>
<rect x="71.00" y="345.30" width="1.00" height="10.90" fill="#3c3c3c"/>
<rect x="72.00" y="345.30" width="1.00" height="10.90" fill="#3c3c3c"/>
<rect x="73.00" y="345.30" width="1.00" height="10.90" fill="#989898"/>
<rect x="74.00" y="345.30" width="1.00" height="10.90" fill="#242424"/>
<rect x="75.00" y="345.30" width="1.00" height="10.90" fill="#242424"/>
<rect x="76.00" y="345.30" width="1.00" height="10.90" fill="#c8c8c8"/>
<rect x="77.00" y="345.30" width="1.00" height="10.90" fill="#545454"/>
<rect x="78.00" y="345.30" width="1.00" height="10.90" fill="#545454"/>
<rect x="79.00" y="345.30" width="1.00" height="10.90" fill="#545454"/>
<rect x="80.00" y="345.30" width="1.00" height="10.90" fill="#242424"/>
<rect x="81.00" y="345.30" width="1.00" height="10.90" fill="#242424"/>
<rect x="82.00" y="345.30" width="1.00" height="10.90" fill="#242424"/>
<rect x="83.00" y="345.30" width="1.00" height="10.90" fill="#b0b0b0"/>
<rect x="84.00" y="345.30" width="1.00" height="10.90" fill="#242424"/>
<rect x="85.00" y="345.30" width="1.00" height="10.90" fill="#242424"/>
<rect x="86.00" y="345.30" width="1.00" height="10.90" fill="#242424"/>
<rect x="87.00" y="345.30" width="1.00" height="10.90" fill="#242424"/>
<rect x="88.00" y="345.30" width="1.00" height="10.90" fill="#989898"/>
<rect x="89.00" y="345.30" width="1.00" height="10.90" fill="#989898"/>
<rect x="90.00" y="345.30" width="1.00" height="10.90" fill="#c8c8c8"/>
<rect x="91.00" y="345.30" width="1.00" height="10.90" fill="#242424"/>
<rect x="92.00" y="345.30" width="1.00" height="10.90" fill="#242424"/>
<rect x="93.00" y="345.30" width="1.00" height="10.90" fill="#242424"/>
<rect x="94.00" y="345.30" width="1.00" height="10.90" fill="#808080"/>
<rect x="95.00" y="345.30" width="1.00" height="10.90" fill="#808080"/>
<rect x="96.00" y="345.30" width="1.00" height="10.90" fill="#3c3c3c"/>
<rect x="97.00" y="345.30" width="1.00" height="10.90" fill="#3c3c3c"/>
<rect x="98.00" y="345.30" width="1.00" height="10.90" fill="#b0b0b0"/>
<rect x="99.00" y="345.30" width="1.00" height="10.90" fill="#b0b0b0"/>
<rect x="100.00" y="345.30" width="1.00" height="10.90" fill="#242424"/>
<rect x="101.00" y="345.30" width="1.00" height="10.90" fill="#242424"/>
<rect x="102.00" y="345.30" width="1.00" height="10.90" fill="#545454"/>
<rect x="103.00" y="345.30" width="1.00" height="10.90" fill="#242424"/>
<rect x="104.00" y="345.30" width="1.00" height="10.90" fill="#242424"/>
<rect x="105.00" y="345.30" width="1.00" height="10.90" fill="#545454"/>
<rect x="106.00" y="345.30" width="1.00" height="10.90" fill="#242424"/>
<rect x="107.00" y="345.30" width="0.50" height="10.90" fill="#242424"/>
<rect x="31.30" y="356.20" width="76.20" height="3.00" fill="url(#cb)"/>
<line x1="31.30" y1="313.00" x2="110.80" y2="313.00" stroke="#3a3a3a" stroke-width="0.85"/>
<path d="M31.30,313.00 C33.42,313.00 41.22,312.92 44.00,313.00 C46.78,313.08 46.50,312.75 48.00,313.50 C49.50,314.25 51.20,315.95 53.00,317.50 C54.80,319.05 56.48,320.57 58.80,322.80 C61.12,325.03 64.43,328.43 66.90,330.90 C69.37,333.37 71.35,335.82 73.60,337.60 C75.85,339.38 77.92,340.75 80.40,341.60 C82.88,342.45 86.27,342.70 88.50,342.70 C90.73,342.70 91.78,342.57 93.80,341.60 C95.82,340.63 99.02,338.35 100.60,336.90 C102.18,335.45 102.63,334.58 103.30,332.90 C103.97,331.22 104.12,329.15 104.60,326.80 C105.08,324.45 105.75,320.93 106.20,318.80 C106.65,316.67 107.12,314.80 107.30,314.00" fill="none" stroke="#e0eab0" stroke-width="1.5" stroke-linejoin="round"/>
<path d="M31.30,313.00 C33.42,313.00 41.22,312.92 44.00,313.00 C46.78,313.08 46.50,312.75 48.00,313.50 C49.50,314.25 51.20,315.95 53.00,317.50 C54.80,319.05 56.48,320.57 58.80,322.80 C61.12,325.03 64.43,328.43 66.90,330.90 C69.37,333.37 71.35,335.82 73.60,337.60 C75.85,339.38 77.92,340.75 80.40,341.60 C82.88,342.45 86.27,342.70 88.50,342.70 C90.73,342.70 91.78,342.57 93.80,341.60 C95.82,340.63 99.02,338.35 100.60,336.90 C102.18,335.45 102.63,334.58 103.30,332.90 C103.97,331.22 104.12,329.15 104.60,326.80 C105.08,324.45 105.75,320.93 106.20,318.80 C106.65,316.67 107.12,314.80 107.30,314.00" fill="none" stroke="#92b03e" stroke-width="0.75" stroke-linejoin="round"/>
<text x="28.60" y="315.88" font-size="6.6" text-anchor="end">0.00</text>
<text x="28.60" y="324.38" font-size="6.6" text-anchor="end">−0.10</text>
<text x="28.60" y="332.78" font-size="6.6" text-anchor="end">−0.20</text>
<text x="28.60" y="340.88" font-size="6.6" text-anchor="end">−0.30</text>
<text x="34.00" y="319.60" font-size="6.4" textLength="12.60" lengthAdjust="spacingAndGlyphs">AML</text>
<text x="70.90" y="319.46" font-size="6.0" textLength="32.00" lengthAdjust="spacingAndGlyphs">NES = -1.70</text>
<text x="70.90" y="326.36" font-size="6.0" textLength="27.30" lengthAdjust="spacingAndGlyphs"><tspan font-style="italic">P</tspan> value = .0</text>
<text x="70.90" y="332.36" font-size="6.0" textLength="28.10" lengthAdjust="spacingAndGlyphs">FDR = 0.20</text>
<text x="30.00" y="368.60" font-size="6.4" textLength="20.80" lengthAdjust="spacingAndGlyphs">Control</text>
<text x="77.20" y="368.60" font-size="6.4" textLength="29.60" lengthAdjust="spacingAndGlyphs">Gabapentin</text>
<text transform="translate(4.85,337.40) rotate(-90)" x="0" y="2.88" font-size="8.0" text-anchor="middle" textLength="37.00" lengthAdjust="spacingAndGlyphs" fill="#2b2b2b">Enrichment score</text>
<rect x="152.20" y="310.60" width="79.50" height="48.30" fill="none" stroke="#4a4a4a" stroke-width="0.8"/>
<rect x="152.20" y="345.20" width="0.80" height="11.10" fill="#808080"/>
<rect x="153.00" y="345.20" width="1.00" height="11.10" fill="#e4e4e4"/>
<rect x="154.00" y="345.20" width="1.00" height="11.10" fill="#e4e4e4"/>
<rect x="155.00" y="345.20" width="1.00" height="11.10" fill="#989898"/>
<rect x="156.00" y="345.20" width="1.00" height="11.10" fill="#989898"/>
<rect x="157.00" y="345.20" width="1.00" height="11.10" fill="#989898"/>
<rect x="158.00" y="345.20" width="1.00" height="11.10" fill="#e4e4e4"/>
<rect x="159.00" y="345.20" width="1.00" height="11.10" fill="#808080"/>
<rect x="160.00" y="345.20" width="1.00" height="11.10" fill="#808080"/>
<rect x="161.00" y="345.20" width="1.00" height="11.10" fill="#808080"/>
<rect x="162.00" y="345.20" width="1.00" height="11.10" fill="#b0b0b0"/>
<rect x="163.00" y="345.20" width="1.00" height="11.10" fill="#6a6a6a"/>
<rect x="164.00" y="345.20" width="1.00" height="11.10" fill="#3c3c3c"/>
<rect x="165.00" y="345.20" width="1.00" height="11.10" fill="#3c3c3c"/>
<rect x="166.00" y="345.20" width="1.00" height="11.10" fill="#3c3c3c"/>
<rect x="167.00" y="345.20" width="1.00" height="11.10" fill="#3c3c3c"/>
<rect x="168.00" y="345.20" width="1.00" height="11.10" fill="#c8c8c8"/>
<rect x="169.00" y="345.20" width="1.00" height="11.10" fill="#808080"/>
<rect x="170.00" y="345.20" width="1.00" height="11.10" fill="#808080"/>
<rect x="171.00" y="345.20" width="1.00" height="11.10" fill="#808080"/>
<rect x="172.00" y="345.20" width="1.00" height="11.10" fill="#c8c8c8"/>
<rect x="173.00" y="345.20" width="1.00" height="11.10" fill="#6a6a6a"/>
<rect x="174.00" y="345.20" width="1.00" height="11.10" fill="#6a6a6a"/>
<rect x="175.00" y="345.20" width="1.00" height="11.10" fill="#6a6a6a"/>
<rect x="176.00" y="345.20" width="1.00" height="11.10" fill="#6a6a6a"/>
<rect x="177.00" y="345.20" width="1.00" height="11.10" fill="#3c3c3c"/>
<rect x="178.00" y="345.20" width="1.00" height="11.10" fill="#3c3c3c"/>
<rect x="179.00" y="345.20" width="1.00" height="11.10" fill="#3c3c3c"/>
<rect x="180.00" y="345.20" width="1.00" height="11.10" fill="#242424"/>
<rect x="181.00" y="345.20" width="1.00" height="11.10" fill="#242424"/>
<rect x="182.00" y="345.20" width="1.00" height="11.10" fill="#242424"/>
<rect x="183.00" y="345.20" width="1.00" height="11.10" fill="#242424"/>
<rect x="184.00" y="345.20" width="1.00" height="11.10" fill="#242424"/>
<rect x="185.00" y="345.20" width="1.00" height="11.10" fill="#545454"/>
<rect x="186.00" y="345.20" width="1.00" height="11.10" fill="#545454"/>
<rect x="187.00" y="345.20" width="1.00" height="11.10" fill="#545454"/>
<rect x="188.00" y="345.20" width="1.00" height="11.10" fill="#3c3c3c"/>
<rect x="189.00" y="345.20" width="1.00" height="11.10" fill="#3c3c3c"/>
<rect x="190.00" y="345.20" width="1.00" height="11.10" fill="#3c3c3c"/>
<rect x="191.00" y="345.20" width="1.00" height="11.10" fill="#3c3c3c"/>
<rect x="192.00" y="345.20" width="1.00" height="11.10" fill="#242424"/>
<rect x="193.00" y="345.20" width="1.00" height="11.10" fill="#242424"/>
<rect x="194.00" y="345.20" width="1.00" height="11.10" fill="#242424"/>
<rect x="195.00" y="345.20" width="1.00" height="11.10" fill="#242424"/>
<rect x="196.00" y="345.20" width="1.00" height="11.10" fill="#808080"/>
<rect x="197.00" y="345.20" width="1.00" height="11.10" fill="#242424"/>
<rect x="198.00" y="345.20" width="1.00" height="11.10" fill="#242424"/>
<rect x="199.00" y="345.20" width="1.00" height="11.10" fill="#242424"/>
<rect x="200.00" y="345.20" width="1.00" height="11.10" fill="#242424"/>
<rect x="201.00" y="345.20" width="1.00" height="11.10" fill="#b0b0b0"/>
<rect x="202.00" y="345.20" width="1.00" height="11.10" fill="#242424"/>
<rect x="203.00" y="345.20" width="1.00" height="11.10" fill="#242424"/>
<rect x="204.00" y="345.20" width="1.00" height="11.10" fill="#242424"/>
<rect x="205.00" y="345.20" width="1.00" height="11.10" fill="#808080"/>
<rect x="206.00" y="345.20" width="1.00" height="11.10" fill="#3c3c3c"/>
<rect x="207.00" y="345.20" width="1.00" height="11.10" fill="#6a6a6a"/>
<rect x="208.00" y="345.20" width="1.00" height="11.10" fill="#6a6a6a"/>
<rect x="209.00" y="345.20" width="1.00" height="11.10" fill="#6a6a6a"/>
<rect x="210.00" y="345.20" width="1.00" height="11.10" fill="#6a6a6a"/>
<rect x="211.00" y="345.20" width="1.00" height="11.10" fill="#6a6a6a"/>
<rect x="212.00" y="345.20" width="1.00" height="11.10" fill="#c8c8c8"/>
<rect x="213.00" y="345.20" width="1.00" height="11.10" fill="#545454"/>
<rect x="214.00" y="345.20" width="1.00" height="11.10" fill="#545454"/>
<rect x="215.00" y="345.20" width="1.00" height="11.10" fill="#242424"/>
<rect x="216.00" y="345.20" width="1.00" height="11.10" fill="#242424"/>
<rect x="217.00" y="345.20" width="1.00" height="11.10" fill="#6a6a6a"/>
<rect x="218.00" y="345.20" width="1.00" height="11.10" fill="#242424"/>
<rect x="219.00" y="345.20" width="1.00" height="11.10" fill="#242424"/>
<rect x="220.00" y="345.20" width="1.00" height="11.10" fill="#242424"/>
<rect x="221.00" y="345.20" width="1.00" height="11.10" fill="#242424"/>
<rect x="222.00" y="345.20" width="1.00" height="11.10" fill="#242424"/>
<rect x="223.00" y="345.20" width="1.00" height="11.10" fill="#242424"/>
<rect x="224.00" y="345.20" width="1.00" height="11.10" fill="#242424"/>
<rect x="225.00" y="345.20" width="1.00" height="11.10" fill="#242424"/>
<rect x="226.00" y="345.20" width="1.00" height="11.10" fill="#242424"/>
<rect x="227.00" y="345.20" width="1.00" height="11.10" fill="#242424"/>
<rect x="152.20" y="356.30" width="75.80" height="2.60" fill="url(#cb)"/>
<line x1="152.20" y1="313.20" x2="231.70" y2="313.20" stroke="#3a3a3a" stroke-width="0.85"/>
<path d="M152.20,313.20 C152.50,313.25 152.78,313.05 154.00,313.50 C155.22,313.95 157.27,314.45 159.50,315.90 C161.73,317.35 164.78,319.97 167.40,322.20 C170.02,324.43 172.58,327.07 175.20,329.30 C177.82,331.53 180.47,333.77 183.10,335.60 C185.73,337.43 188.10,339.12 191.00,340.30 C193.90,341.48 197.87,342.43 200.50,342.70 C203.13,342.97 204.43,342.30 206.80,341.90 C209.17,341.50 212.60,341.48 214.70,340.30 C216.80,339.12 217.83,337.03 219.40,334.80 C220.97,332.57 222.78,329.78 224.10,326.90 C225.42,324.02 226.50,319.83 227.30,317.50 C228.10,315.17 228.63,313.67 228.90,312.90" fill="none" stroke="#e0eab0" stroke-width="1.5" stroke-linejoin="round"/>
<path d="M152.20,313.20 C152.50,313.25 152.78,313.05 154.00,313.50 C155.22,313.95 157.27,314.45 159.50,315.90 C161.73,317.35 164.78,319.97 167.40,322.20 C170.02,324.43 172.58,327.07 175.20,329.30 C177.82,331.53 180.47,333.77 183.10,335.60 C185.73,337.43 188.10,339.12 191.00,340.30 C193.90,341.48 197.87,342.43 200.50,342.70 C203.13,342.97 204.43,342.30 206.80,341.90 C209.17,341.50 212.60,341.48 214.70,340.30 C216.80,339.12 217.83,337.03 219.40,334.80 C220.97,332.57 222.78,329.78 224.10,326.90 C225.42,324.02 226.50,319.83 227.30,317.50 C228.10,315.17 228.63,313.67 228.90,312.90" fill="none" stroke="#92b03e" stroke-width="0.75" stroke-linejoin="round"/>
<text x="149.30" y="315.68" font-size="6.6" text-anchor="end">0.00</text>
<text x="149.30" y="322.38" font-size="6.6" text-anchor="end">−0.10</text>
<text x="149.30" y="329.48" font-size="6.6" text-anchor="end">−0.20</text>
<text x="149.30" y="336.68" font-size="6.6" text-anchor="end">−0.30</text>
<text x="149.30" y="344.28" font-size="6.6" text-anchor="end">−0.40</text>
<text x="155.30" y="324.30" font-size="6.4" textLength="10.50" lengthAdjust="spacingAndGlyphs">ALL</text>
<text x="190.80" y="319.26" font-size="6.0" textLength="30.70" lengthAdjust="spacingAndGlyphs">NES = -1.81</text>
<text x="190.80" y="326.26" font-size="6.0" textLength="27.00" lengthAdjust="spacingAndGlyphs"><tspan font-style="italic">P</tspan> value = .0</text>
<text x="190.80" y="332.66" font-size="6.0" textLength="28.00" lengthAdjust="spacingAndGlyphs">FDR = 0.01</text>
<text x="151.40" y="368.60" font-size="6.4" textLength="20.60" lengthAdjust="spacingAndGlyphs">Control</text>
<text x="198.50" y="368.60" font-size="6.4" textLength="30.00" lengthAdjust="spacingAndGlyphs">Gabapentin</text>
<text transform="translate(125.20,336.55) rotate(-90)" x="0" y="2.88" font-size="8.0" text-anchor="middle" textLength="39.30" lengthAdjust="spacingAndGlyphs" fill="#2b2b2b">Enrichment score</text>
<text x="91.20" y="107.70" font-size="6.4" textLength="74.50" lengthAdjust="spacingAndGlyphs">WONG_ES_CELL_CORE</text>
<text x="78.30" y="204.60" font-size="6.4" textLength="106.90" lengthAdjust="spacingAndGlyphs">BENPORATH_ES_WITH_H3K27ME3</text>
<text x="85.70" y="302.80" font-size="6.4" textLength="91.70" lengthAdjust="spacingAndGlyphs">BENPORATH_PRC2_TARGETS</text>
<text x="366.00" y="8.60" font-size="6.4" textLength="55.30" lengthAdjust="spacingAndGlyphs">Primary CD34<tspan font-size="4.8" dy="-2.1">+</tspan><tspan dy="2.1"> ALL</tspan></text>
<text x="284.30" y="27.70" font-size="6.4" textLength="91.50" lengthAdjust="spacingAndGlyphs">BENPORATH_PRC2_TARGETS</text>
<text x="409.80" y="19.20" font-size="6.4" textLength="94.20" lengthAdjust="spacingAndGlyphs">HSCs-related PRC2 target genes</text>
<text x="430.80" y="29.30" font-size="6.4" textLength="52.20" lengthAdjust="spacingAndGlyphs">(PMID 24239285)</text>
<line x1="281.00" y1="32.40" x2="281.00" y2="102.20" stroke="#262626" stroke-width="1.0"/>
<line x1="281.00" y1="102.20" x2="380.00" y2="102.20" stroke="#262626" stroke-width="1.0"/>
<line x1="328.30" y1="32.40" x2="328.30" y2="102.20" stroke="#c8c8c8" stroke-width="0.7"/>
<line x1="278.00" y1="46.40" x2="281.00" y2="46.40" stroke="#333" stroke-width="0.8"/>
<text x="261.40" y="48.70" font-size="6.4" textLength="13.00" lengthAdjust="spacingAndGlyphs">0.75</text>
<line x1="278.00" y1="63.10" x2="281.00" y2="63.10" stroke="#333" stroke-width="0.8"/>
<text x="261.40" y="65.40" font-size="6.4" textLength="13.00" lengthAdjust="spacingAndGlyphs">0.50</text>
<line x1="278.00" y1="79.30" x2="281.00" y2="79.30" stroke="#333" stroke-width="0.8"/>
<text x="261.40" y="81.60" font-size="6.4" textLength="13.00" lengthAdjust="spacingAndGlyphs">0.25</text>
<line x1="278.00" y1="95.30" x2="281.00" y2="95.30" stroke="#333" stroke-width="0.8"/>
<text x="261.40" y="97.60" font-size="6.4" textLength="13.00" lengthAdjust="spacingAndGlyphs">0.00</text>
<line x1="285.00" y1="102.20" x2="285.00" y2="105.20" stroke="#333" stroke-width="0.8"/>
<text x="279.70" y="113.70" font-size="6.4" textLength="14.50" lengthAdjust="spacingAndGlyphs">−4000</text>
<line x1="305.80" y1="102.20" x2="305.80" y2="105.20" stroke="#333" stroke-width="0.8"/>
<text x="298.20" y="113.70" font-size="6.4" textLength="18.00" lengthAdjust="spacingAndGlyphs">−2000</text>
<line x1="328.30" y1="102.20" x2="328.30" y2="105.20" stroke="#333" stroke-width="0.8"/>
<text x="323.50" y="113.70" font-size="6.4" textLength="11.60" lengthAdjust="spacingAndGlyphs">TSS</text>
<line x1="350.30" y1="102.20" x2="350.30" y2="105.20" stroke="#333" stroke-width="0.8"/>
<text x="343.40" y="113.70" font-size="6.4" textLength="14.30" lengthAdjust="spacingAndGlyphs">2000</text>
<line x1="371.50" y1="102.20" x2="371.50" y2="105.20" stroke="#333" stroke-width="0.8"/>
<text x="364.60" y="113.70" font-size="6.4" textLength="15.00" lengthAdjust="spacingAndGlyphs">4000</text>
<text x="311.50" y="126.98" font-size="9.4" font-weight="bold" textLength="34.20" lengthAdjust="spacingAndGlyphs">Distance (bp)</text>
<path d="M285.00,70.86 L285.69,70.62 L286.55,70.60 L287.57,70.27 L288.71,70.37 L289.95,69.72 L291.26,69.12 L292.61,68.49 L293.99,68.43 L295.37,68.60 L296.71,68.49 L298.00,68.12 L299.20,67.63 L300.37,67.19 L301.56,66.55 L302.76,66.12 L303.97,65.32 L305.17,65.13 L306.36,64.53 L307.52,64.06 L308.66,63.29 L309.75,62.52 L310.79,62.11 L311.78,62.06 L312.70,62.09 L314.12,62.00 L315.38,61.54 L316.51,61.50 L317.54,61.25 L318.51,61.24 L319.45,61.38 L320.40,61.55 L321.65,62.13 L322.77,62.37 L323.84,62.94 L324.96,63.69 L326.20,64.39 L327.16,65.10 L328.12,66.09 L329.12,67.41 L330.17,68.65 L331.28,69.17 L332.49,69.34 L333.80,69.47 L334.82,68.96 L335.96,68.75 L337.17,67.87 L338.43,67.44 L339.71,66.49 L340.99,65.71 L342.22,64.59 L343.39,63.37 L344.46,62.57 L345.40,62.12 L346.87,62.15 L347.96,61.89 L348.88,62.31 L349.89,62.57 L351.20,63.05 L352.09,63.04 L353.04,63.35 L354.05,63.43 L355.10,63.72 L356.19,63.68 L357.32,64.38 L358.47,64.86 L359.63,65.51 L360.80,65.75 L361.92,66.29 L363.16,66.99 L364.47,67.75 L365.82,68.05 L367.15,68.51 L368.44,68.92 L369.64,69.81 L370.71,70.34 L371.61,70.87 L372.30,71.08" fill="none" stroke="#c23454" stroke-width="1.1" stroke-linejoin="round"/>
<path d="M285.00,61.75 L285.74,61.97 L286.78,62.21 L288.01,63.17 L289.32,63.86 L290.60,64.24 L291.62,63.95 L292.64,63.64 L293.70,63.09 L294.81,63.02 L296.00,62.22 L297.30,61.95 L298.38,61.08 L299.56,60.26 L300.81,59.44 L302.09,58.40 L303.38,57.63 L304.63,56.42 L305.81,55.68 L306.90,55.03 L308.19,54.80 L309.34,55.20 L310.43,55.45 L311.48,56.05 L312.55,56.00 L313.70,56.37 L314.78,55.95 L315.95,55.66 L317.15,55.37 L318.33,55.05 L319.45,54.72 L320.45,53.97 L321.30,53.42 L322.60,51.62 L323.38,49.35 L324.20,46.77 L325.30,43.58 L326.44,40.37 L327.50,38.19 L328.38,36.92 L329.17,36.50 L330.00,35.99 L330.87,36.28 L331.78,36.60 L332.90,39.11 L333.75,41.73 L334.73,45.54 L335.76,48.95 L336.77,52.45 L337.70,54.70 L338.65,57.07 L339.48,57.91 L340.36,58.74 L341.50,59.22 L342.44,59.48 L343.48,59.45 L344.60,59.54 L345.79,60.10 L347.03,60.65 L348.30,60.88 L349.30,61.20 L350.34,61.50 L351.43,61.87 L352.54,62.32 L353.66,62.95 L354.77,63.42 L355.86,63.61 L356.90,63.45 L358.05,63.99 L359.17,63.85 L360.26,64.05 L361.35,64.10 L362.43,64.48 L363.51,64.47 L364.60,64.25 L365.77,64.30 L367.02,65.39 L368.30,66.05 L369.54,67.18 L370.66,67.72 L371.60,68.17 L372.30,68.11" fill="none" stroke="#33506a" stroke-width="1.1" stroke-linejoin="round"/>
<line x1="406.80" y1="32.30" x2="406.80" y2="102.30" stroke="#262626" stroke-width="1.0"/>
<line x1="406.80" y1="102.30" x2="505.80" y2="102.30" stroke="#262626" stroke-width="1.0"/>
<line x1="456.70" y1="32.30" x2="456.70" y2="102.30" stroke="#c8c8c8" stroke-width="0.7"/>
<line x1="403.80" y1="45.60" x2="406.80" y2="45.60" stroke="#333" stroke-width="0.8"/>
<text x="388.00" y="47.90" font-size="6.4" textLength="13.00" lengthAdjust="spacingAndGlyphs">0.75</text>
<line x1="403.80" y1="62.80" x2="406.80" y2="62.80" stroke="#333" stroke-width="0.8"/>
<text x="388.00" y="65.10" font-size="6.4" textLength="13.00" lengthAdjust="spacingAndGlyphs">0.50</text>
<line x1="403.80" y1="78.80" x2="406.80" y2="78.80" stroke="#333" stroke-width="0.8"/>
<text x="388.00" y="81.10" font-size="6.4" textLength="13.00" lengthAdjust="spacingAndGlyphs">0.25</text>
<line x1="403.80" y1="95.00" x2="406.80" y2="95.00" stroke="#333" stroke-width="0.8"/>
<text x="388.00" y="97.30" font-size="6.4" textLength="13.00" lengthAdjust="spacingAndGlyphs">0.00</text>
<line x1="411.80" y1="102.30" x2="411.80" y2="105.30" stroke="#333" stroke-width="0.8"/>
<text x="406.30" y="113.70" font-size="6.4" textLength="14.50" lengthAdjust="spacingAndGlyphs">−4000</text>
<line x1="434.40" y1="102.30" x2="434.40" y2="105.30" stroke="#333" stroke-width="0.8"/>
<text x="425.40" y="113.70" font-size="6.4" textLength="18.00" lengthAdjust="spacingAndGlyphs">−2000</text>
<line x1="456.70" y1="102.30" x2="456.70" y2="105.30" stroke="#333" stroke-width="0.8"/>
<text x="451.00" y="113.70" font-size="6.4" textLength="11.60" lengthAdjust="spacingAndGlyphs">TSS</text>
<line x1="478.30" y1="102.30" x2="478.30" y2="105.30" stroke="#333" stroke-width="0.8"/>
<text x="471.70" y="113.70" font-size="6.4" textLength="14.10" lengthAdjust="spacingAndGlyphs">2000</text>
<line x1="500.30" y1="102.30" x2="500.30" y2="105.30" stroke="#333" stroke-width="0.8"/>
<text x="494.20" y="113.70" font-size="6.4" textLength="14.10" lengthAdjust="spacingAndGlyphs">4000</text>
<text x="439.50" y="127.48" font-size="9.4" font-weight="bold" textLength="34.20" lengthAdjust="spacingAndGlyphs">Distance (bp)</text>
<path d="M411.80,86.35 L412.50,86.18 L413.44,85.74 L414.56,85.44 L415.80,84.91 L417.10,84.49 L418.41,84.10 L419.66,83.29 L420.80,82.90 L421.99,82.82 L423.16,83.18 L424.29,83.30 L425.42,83.07 L426.54,82.71 L427.66,82.12 L428.80,81.64 L429.96,81.15 L431.15,80.57 L432.34,79.97 L433.52,79.48 L434.68,78.99 L435.82,78.65 L436.90,78.03 L438.10,77.24 L439.23,76.27 L440.33,75.56 L441.41,75.43 L442.49,74.97 L443.60,74.71 L444.76,74.40 L445.96,74.08 L447.17,73.56 L448.34,73.05 L449.43,72.94 L450.40,73.43 L451.58,74.16 L452.53,75.06 L453.42,75.62 L454.40,76.72 L455.53,78.23 L456.71,79.72 L457.91,80.46 L459.10,80.87 L460.23,81.25 L461.32,81.84 L462.48,81.83 L463.80,81.09 L464.83,79.92 L465.97,78.91 L467.16,77.77 L468.37,76.63 L469.53,75.80 L470.60,75.24 L471.78,74.84 L472.89,74.22 L473.94,74.24 L474.94,74.35 L475.90,75.05 L476.99,75.32 L477.97,76.04 L478.94,76.52 L480.00,77.05 L480.92,77.67 L481.85,78.58 L482.83,79.39 L483.88,79.91 L485.00,80.21 L486.05,81.14 L487.20,81.86 L488.41,82.53 L489.60,82.81 L490.71,83.44 L491.70,83.33 L492.91,83.30 L493.91,82.35 L494.83,81.86 L495.80,81.40 L496.94,81.84 L498.16,82.07 L499.24,82.46 L500.00,82.49" fill="none" stroke="#c23454" stroke-width="1.1" stroke-linejoin="round"/>
<path d="M411.80,78.02 L412.51,77.90 L413.43,77.30 L414.52,77.07 L415.75,76.42 L417.06,76.05 L418.42,75.37 L419.79,75.17 L421.12,74.94 L422.37,74.87 L423.50,74.55 L424.79,74.28 L426.01,73.69 L427.19,73.24 L428.34,72.95 L429.48,72.95 L430.60,72.19 L431.74,71.37 L432.90,70.53 L434.12,70.14 L435.39,69.78 L436.69,69.67 L437.97,69.44 L439.21,69.22 L440.37,68.75 L441.41,68.71 L442.30,68.15 L443.88,67.10 L444.80,66.35 L445.70,66.18 L446.78,67.19 L447.84,68.76 L449.00,69.36 L450.00,67.93 L451.09,65.40 L452.15,62.46 L453.10,60.21 L454.13,58.67 L455.00,58.07 L455.80,57.72 L456.80,55.26 L457.80,53.54 L458.57,53.00 L459.43,53.35 L460.50,55.14 L461.58,58.14 L462.85,61.66 L464.12,64.75 L465.20,66.92 L466.10,68.36 L466.78,68.67 L467.90,68.78 L468.80,69.15 L469.89,69.21 L471.08,69.88 L472.31,70.35 L473.51,70.82 L474.60,71.13 L475.77,71.55 L476.87,73.00 L477.93,74.36 L478.97,75.57 L480.00,75.74 L480.99,75.82 L481.91,75.50 L482.84,75.32 L483.85,74.91 L485.00,75.61 L485.94,76.04 L486.96,77.00 L488.04,77.54 L489.15,78.50 L490.28,79.02 L491.41,79.36 L492.50,79.85 L493.64,79.96 L494.86,80.24 L496.11,80.79 L497.31,81.56 L498.40,82.05 L499.32,82.21 L500.00,82.36" fill="none" stroke="#33506a" stroke-width="1.1" stroke-linejoin="round"/>
<text transform="translate(253.30,67.70) rotate(-90)" x="0" y="2.52" font-size="7.0" font-weight="bold" text-anchor="middle" textLength="40.40" lengthAdjust="spacingAndGlyphs" fill="#2b2b2b">Average density</text>
<line x1="351.10" y1="137.70" x2="363.10" y2="137.70" stroke="#5f7c9e" stroke-width="1.1"/>
<text x="366.50" y="139.80" font-size="6.4" textLength="20.80" lengthAdjust="spacingAndGlyphs" class="lt">Control</text>
<line x1="393.00" y1="137.70" x2="405.80" y2="137.70" stroke="#d05a78" stroke-width="1.1"/>
<text x="408.00" y="139.80" font-size="6.4" textLength="33.10" lengthAdjust="spacingAndGlyphs" class="lt">Gabapentin</text>
<text x="301.20" y="157.90" font-size="6.4" textLength="56.50" lengthAdjust="spacingAndGlyphs">Primary CD34<tspan font-size="4.8" dy="-2.1">+</tspan><tspan dy="2.1"> AML</tspan></text>
<line x1="281.50" y1="162.30" x2="378.10" y2="162.30" stroke="#333" stroke-width="0.9"/>
<text x="288.30" y="171.50" font-size="6.4" textLength="25.30" lengthAdjust="spacingAndGlyphs">All genes</text>
<text x="344.20" y="171.50" font-size="6.4" textLength="37.10" lengthAdjust="spacingAndGlyphs">PRC2 targets</text>
<text transform="translate(250.50,208.90) rotate(-90)" x="0" y="2.84" font-size="7.9" font-weight="bold" text-anchor="middle" textLength="83.00" lengthAdjust="spacingAndGlyphs" fill="#2b2b2b">Relative enrichment around TSS</text>
<text transform="translate(260.90,208.75) rotate(-90)" x="0" y="2.84" font-size="7.9" font-weight="bold" text-anchor="middle" textLength="61.70" lengthAdjust="spacingAndGlyphs" fill="#2b2b2b">log2 (H3K27me3/ChIP)</text>
<line x1="282.00" y1="176.30" x2="282.00" y2="241.40" stroke="#262626" stroke-width="1.0"/>
<line x1="282.00" y1="241.40" x2="321.30" y2="241.40" stroke="#262626" stroke-width="1.0"/>
<line x1="279.00" y1="187.30" x2="282.00" y2="187.30" stroke="#333" stroke-width="0.8"/>
<text x="275.00" y="189.60" font-size="6.4" text-anchor="end">4</text>
<line x1="279.00" y1="205.70" x2="282.00" y2="205.70" stroke="#333" stroke-width="0.8"/>
<text x="275.00" y="208.00" font-size="6.4" text-anchor="end">0</text>
<line x1="279.00" y1="223.90" x2="282.00" y2="223.90" stroke="#333" stroke-width="0.8"/>
<text x="275.00" y="226.20" font-size="6.4" text-anchor="end">−4</text>
<line x1="291.80" y1="241.40" x2="291.80" y2="244.20" stroke="#333" stroke-width="0.8"/>
<line x1="310.00" y1="241.40" x2="310.00" y2="244.20" stroke="#333" stroke-width="0.8"/>
<line x1="291.80" y1="219.10" x2="291.80" y2="192.30" stroke="#555" stroke-width="0.85"/>
<line x1="291.80" y1="195.00" x2="291.80" y2="203.00" stroke="#2a2a2a" stroke-width="1.35" stroke-dasharray="0.9,0.45"/>
<line x1="291.80" y1="208.00" x2="291.80" y2="216.00" stroke="#2a2a2a" stroke-width="1.35" stroke-dasharray="0.9,0.45"/>
<circle cx="291.80" cy="186.00" r="0.6" fill="#666"/>
<circle cx="291.80" cy="190.00" r="0.6" fill="#666"/>
<circle cx="291.80" cy="222.50" r="0.6" fill="#666"/>
<circle cx="291.80" cy="226.00" r="0.6" fill="#666"/>
<circle cx="291.80" cy="229.50" r="0.6" fill="#666"/>
<circle cx="291.80" cy="233.00" r="0.6" fill="#666"/>
<circle cx="291.80" cy="236.50" r="0.6" fill="#666"/>
<circle cx="291.80" cy="240.00" r="0.6" fill="#666"/>
<rect x="285.25" y="204.10" width="13.10" height="3.30" fill="#174c86" stroke="#0c2848" stroke-width="0.85"/>
<line x1="285.25" y1="205.70" x2="298.35" y2="205.70" stroke="#0e2440" stroke-width="0.7"/>
<line x1="310.00" y1="220.00" x2="310.00" y2="190.50" stroke="#555" stroke-width="0.85"/>
<line x1="310.00" y1="194.00" x2="310.00" y2="203.00" stroke="#2a2a2a" stroke-width="1.35" stroke-dasharray="0.9,0.45"/>
<line x1="310.00" y1="208.00" x2="310.00" y2="217.00" stroke="#2a2a2a" stroke-width="1.35" stroke-dasharray="0.9,0.45"/>
<circle cx="310.00" cy="178.60" r="0.6" fill="#666"/>
<circle cx="310.00" cy="186.00" r="0.6" fill="#666"/>
<circle cx="310.00" cy="223.50" r="0.6" fill="#666"/>
<circle cx="310.00" cy="227.10" r="0.6" fill="#666"/>
<rect x="303.40" y="204.10" width="13.20" height="3.30" fill="#c80a2c" stroke="#7a0a1e" stroke-width="0.85"/>
<line x1="303.40" y1="205.70" x2="316.60" y2="205.70" stroke="#700818" stroke-width="0.7"/>
<text x="296.80" y="186.20" font-size="6.4" textLength="8.90" lengthAdjust="spacingAndGlyphs">NS</text>
<text transform="translate(294.30,252.70) rotate(-45)" x="0" y="0" font-size="7.6" text-anchor="end" textLength="19.40" lengthAdjust="spacingAndGlyphs">Control</text>
<text transform="translate(312.50,252.70) rotate(-45)" x="0" y="0" font-size="7.6" text-anchor="end" textLength="30.90" lengthAdjust="spacingAndGlyphs">Gabapentin</text>
<line x1="342.70" y1="176.30" x2="342.70" y2="241.60" stroke="#262626" stroke-width="1.0"/>
<line x1="342.70" y1="241.60" x2="382.30" y2="241.60" stroke="#262626" stroke-width="1.0"/>
<line x1="339.70" y1="178.00" x2="342.70" y2="178.00" stroke="#333" stroke-width="0.8"/>
<text x="339.10" y="180.30" font-size="6.4" text-anchor="end">2.0</text>
<line x1="339.70" y1="193.60" x2="342.70" y2="193.60" stroke="#333" stroke-width="0.8"/>
<text x="339.10" y="195.90" font-size="6.4" text-anchor="end">1.0</text>
<line x1="339.70" y1="208.40" x2="342.70" y2="208.40" stroke="#333" stroke-width="0.8"/>
<text x="339.10" y="210.70" font-size="6.4" text-anchor="end">0</text>
<line x1="339.70" y1="223.20" x2="342.70" y2="223.20" stroke="#333" stroke-width="0.8"/>
<text x="339.10" y="225.50" font-size="6.4" text-anchor="end">−1.0</text>
<line x1="339.70" y1="238.20" x2="342.70" y2="238.20" stroke="#333" stroke-width="0.8"/>
<text x="339.10" y="240.50" font-size="6.4" text-anchor="end">−2.0</text>
<line x1="353.90" y1="241.60" x2="353.90" y2="244.40" stroke="#333" stroke-width="0.8"/>
<line x1="372.10" y1="241.60" x2="372.10" y2="244.40" stroke="#333" stroke-width="0.8"/>
<line x1="353.90" y1="223.60" x2="353.90" y2="186.10" stroke="#555" stroke-width="0.85"/>
<line x1="353.90" y1="221.80" x2="353.90" y2="228.00" stroke="#2a2a2a" stroke-width="1.35" stroke-dasharray="0.9,0.45"/>
<rect x="347.15" y="193.40" width="13.50" height="10.40" fill="#174c86" stroke="#0c2848" stroke-width="0.85"/>
<line x1="347.15" y1="198.20" x2="360.65" y2="198.20" stroke="#0e2440" stroke-width="0.7"/>
<line x1="372.10" y1="216.80" x2="372.10" y2="186.40" stroke="#555" stroke-width="0.85"/>
<line x1="372.10" y1="216.80" x2="372.10" y2="221.80" stroke="#2a2a2a" stroke-width="1.35" stroke-dasharray="0.9,0.45"/>
<rect x="365.40" y="197.90" width="13.40" height="7.40" fill="#c80a2c" stroke="#7a0a1e" stroke-width="0.85"/>
<line x1="365.40" y1="201.30" x2="378.80" y2="201.30" stroke="#700818" stroke-width="0.7"/>
<line x1="353.90" y1="183.40" x2="372.50" y2="183.40" stroke="#333" stroke-width="0.8"/>
<text x="359.50" y="184.60" font-size="6.4" textLength="7.50" lengthAdjust="spacingAndGlyphs">***</text>
<text x="357.90" y="239.16" font-size="4.6" textLength="22.30" lengthAdjust="spacingAndGlyphs" class="lt2"><tspan font-style="italic">P</tspan> = 5.9e-16</text>
<text transform="translate(356.40,252.90) rotate(-45)" x="0" y="0" font-size="7.6" text-anchor="end" textLength="19.40" lengthAdjust="spacingAndGlyphs">Control</text>
<text transform="translate(374.60,252.90) rotate(-45)" x="0" y="0" font-size="7.6" text-anchor="end" textLength="30.90" lengthAdjust="spacingAndGlyphs">Gabapentin</text>
<text x="443.50" y="157.80" font-size="6.4" textLength="55.70" lengthAdjust="spacingAndGlyphs">Primary CD34<tspan font-size="4.8" dy="-2.1">+</tspan><tspan dy="2.1"> ALL</tspan></text>
<line x1="422.70" y1="162.30" x2="520.00" y2="162.30" stroke="#333" stroke-width="0.9"/>
<text x="429.60" y="171.50" font-size="6.4" textLength="25.40" lengthAdjust="spacingAndGlyphs">All genes</text>
<text x="480.00" y="171.50" font-size="6.4" textLength="39.00" lengthAdjust="spacingAndGlyphs">PRC2 targets</text>
<text transform="translate(394.90,208.80) rotate(-90)" x="0" y="2.84" font-size="7.9" font-weight="bold" text-anchor="middle" textLength="71.40" lengthAdjust="spacingAndGlyphs" fill="#2b2b2b">Relative enrichment around</text>
<text transform="translate(404.70,208.85) rotate(-90)" x="0" y="2.84" font-size="7.9" font-weight="bold" text-anchor="middle" textLength="74.30" lengthAdjust="spacingAndGlyphs" fill="#2b2b2b">TSS log2 (H3K27me3/ChIP)</text>
<line x1="422.20" y1="176.20" x2="422.20" y2="241.30" stroke="#262626" stroke-width="1.0"/>
<line x1="422.20" y1="241.30" x2="461.90" y2="241.30" stroke="#262626" stroke-width="1.0"/>
<line x1="419.20" y1="192.00" x2="422.20" y2="192.00" stroke="#333" stroke-width="0.8"/>
<text x="416.00" y="194.30" font-size="6.4" text-anchor="end">5</text>
<line x1="419.20" y1="215.10" x2="422.20" y2="215.10" stroke="#333" stroke-width="0.8"/>
<text x="416.00" y="217.40" font-size="6.4" text-anchor="end">0</text>
<line x1="419.20" y1="238.50" x2="422.20" y2="238.50" stroke="#333" stroke-width="0.8"/>
<text x="416.00" y="240.80" font-size="6.4" text-anchor="end">−5</text>
<line x1="432.80" y1="241.30" x2="432.80" y2="244.10" stroke="#333" stroke-width="0.8"/>
<line x1="450.90" y1="241.30" x2="450.90" y2="244.10" stroke="#333" stroke-width="0.8"/>
<line x1="432.80" y1="233.50" x2="432.80" y2="196.20" stroke="#555" stroke-width="0.85"/>
<line x1="432.80" y1="189.20" x2="432.80" y2="211.00" stroke="#2a2a2a" stroke-width="1.35" stroke-dasharray="0.9,0.45"/>
<line x1="432.80" y1="219.00" x2="432.80" y2="232.00" stroke="#2a2a2a" stroke-width="1.35" stroke-dasharray="0.9,0.45"/>
<circle cx="432.80" cy="178.20" r="0.6" fill="#666"/>
<circle cx="432.80" cy="236.50" r="0.6" fill="#666"/>
<rect x="426.25" y="211.30" width="13.10" height="7.60" fill="#174c86" stroke="#0c2848" stroke-width="0.85"/>
<line x1="426.25" y1="214.90" x2="439.35" y2="214.90" stroke="#0e2440" stroke-width="0.7"/>
<line x1="450.90" y1="234.50" x2="450.90" y2="196.20" stroke="#555" stroke-width="0.85"/>
<line x1="450.90" y1="197.00" x2="450.90" y2="211.00" stroke="#2a2a2a" stroke-width="1.35" stroke-dasharray="0.9,0.45"/>
<line x1="450.90" y1="218.00" x2="450.90" y2="234.00" stroke="#2a2a2a" stroke-width="1.35" stroke-dasharray="0.9,0.45"/>
<circle cx="450.90" cy="186.20" r="0.6" fill="#666"/>
<circle cx="450.90" cy="237.00" r="0.6" fill="#666"/>
<rect x="444.20" y="211.80" width="13.40" height="6.30" fill="#c80a2c" stroke="#7a0a1e" stroke-width="0.85"/>
<line x1="444.20" y1="214.90" x2="457.60" y2="214.90" stroke="#700818" stroke-width="0.7"/>
<text x="438.00" y="186.90" font-size="6.4" textLength="8.50" lengthAdjust="spacingAndGlyphs">NS</text>
<text transform="translate(435.30,252.60) rotate(-45)" x="0" y="0" font-size="7.6" text-anchor="end" textLength="19.40" lengthAdjust="spacingAndGlyphs">Control</text>
<text transform="translate(453.40,252.60) rotate(-45)" x="0" y="0" font-size="7.6" text-anchor="end" textLength="30.90" lengthAdjust="spacingAndGlyphs">Gabapentin</text>
<line x1="480.60" y1="177.40" x2="480.60" y2="242.10" stroke="#262626" stroke-width="1.0"/>
<line x1="480.60" y1="242.10" x2="520.00" y2="242.10" stroke="#262626" stroke-width="1.0"/>
<line x1="477.60" y1="187.50" x2="480.60" y2="187.50" stroke="#333" stroke-width="0.8"/>
<text x="474.30" y="189.80" font-size="6.4" text-anchor="end">5.0</text>
<line x1="477.60" y1="206.00" x2="480.60" y2="206.00" stroke="#333" stroke-width="0.8"/>
<text x="474.30" y="208.30" font-size="6.4" text-anchor="end">2.5</text>
<line x1="477.60" y1="223.10" x2="480.60" y2="223.10" stroke="#333" stroke-width="0.8"/>
<text x="474.30" y="225.40" font-size="6.4" text-anchor="end">0</text>
<line x1="491.40" y1="242.10" x2="491.40" y2="244.90" stroke="#333" stroke-width="0.8"/>
<line x1="509.40" y1="242.10" x2="509.40" y2="244.90" stroke="#333" stroke-width="0.8"/>
<line x1="491.40" y1="233.60" x2="491.40" y2="199.30" stroke="#555" stroke-width="0.85"/>
<circle cx="491.40" cy="237.80" r="0.6" fill="#666"/>
<rect x="485.05" y="208.20" width="12.70" height="10.30" fill="#174c86" stroke="#0c2848" stroke-width="0.85"/>
<line x1="485.05" y1="211.00" x2="497.75" y2="211.00" stroke="#0e2440" stroke-width="0.7"/>
<line x1="509.40" y1="237.40" x2="509.40" y2="199.70" stroke="#555" stroke-width="0.85"/>
<circle cx="509.40" cy="178.00" r="0.6" fill="#666"/>
<rect x="503.05" y="208.40" width="12.70" height="13.10" fill="#c80a2c" stroke="#7a0a1e" stroke-width="0.85"/>
<line x1="503.05" y1="213.20" x2="515.75" y2="213.20" stroke="#700818" stroke-width="0.7"/>
<line x1="491.40" y1="184.00" x2="509.90" y2="184.00" stroke="#333" stroke-width="0.8"/>
<text x="497.50" y="184.50" font-size="6.4" textLength="6.00" lengthAdjust="spacingAndGlyphs">**</text>
<text x="496.20" y="239.46" font-size="4.6" textLength="19.00" lengthAdjust="spacingAndGlyphs" class="lt2"><tspan font-style="italic">P</tspan> = .0018</text>
<text transform="translate(493.90,253.40) rotate(-45)" x="0" y="0" font-size="7.6" text-anchor="end" textLength="19.40" lengthAdjust="spacingAndGlyphs">Control</text>
<text transform="translate(511.90,253.40) rotate(-45)" x="0" y="0" font-size="7.6" text-anchor="end" textLength="30.90" lengthAdjust="spacingAndGlyphs">Gabapentin</text>
<text x="283.30" y="296.10" font-size="6.4" textLength="85.90" lengthAdjust="spacingAndGlyphs">hCD34<tspan font-size="4.8" dy="-2.1">+</tspan><tspan dy="2.1"> ALL cells (PDX ALL3)</tspan></text>
<text x="308.60" y="305.40" font-size="6.4" textLength="35.80" lengthAdjust="spacingAndGlyphs">in NSG mice</text>
<line x1="283.80" y1="309.40" x2="369.40" y2="309.40" stroke="#333" stroke-width="0.9"/>
<text x="288.50" y="318.30" font-size="6.4" textLength="25.90" lengthAdjust="spacingAndGlyphs">All genes</text>
<text x="344.00" y="318.10" font-size="6.4" textLength="37.60" lengthAdjust="spacingAndGlyphs">PRC2 targets</text>
<text transform="translate(245.80,355.10) rotate(-90)" x="0" y="2.84" font-size="7.9" font-weight="bold" text-anchor="middle" textLength="84.00" lengthAdjust="spacingAndGlyphs" fill="#2b2b2b">Relative enrichment around TSS</text>
<text transform="translate(256.40,354.40) rotate(-90)" x="0" y="2.84" font-size="7.9" font-weight="bold" text-anchor="middle" textLength="62.60" lengthAdjust="spacingAndGlyphs" fill="#2b2b2b">log2 (H3K27me3/ChIP)</text>
<line x1="281.70" y1="322.20" x2="281.70" y2="388.10" stroke="#262626" stroke-width="1.0"/>
<line x1="281.70" y1="388.10" x2="320.70" y2="388.10" stroke="#262626" stroke-width="1.0"/>
<line x1="278.70" y1="342.60" x2="281.70" y2="342.60" stroke="#333" stroke-width="0.8"/>
<text x="276.80" y="344.90" font-size="6.4" text-anchor="end">3.0</text>
<line x1="278.70" y1="357.30" x2="281.70" y2="357.30" stroke="#333" stroke-width="0.8"/>
<text x="276.80" y="359.60" font-size="6.4" text-anchor="end">0</text>
<line x1="278.70" y1="372.50" x2="281.70" y2="372.50" stroke="#333" stroke-width="0.8"/>
<text x="276.80" y="374.80" font-size="6.4" text-anchor="end">−3.0</text>
<line x1="292.60" y1="388.10" x2="292.60" y2="390.90" stroke="#333" stroke-width="0.8"/>
<line x1="310.80" y1="388.10" x2="310.80" y2="390.90" stroke="#333" stroke-width="0.8"/>
<line x1="292.60" y1="372.10" x2="292.60" y2="338.80" stroke="#555" stroke-width="0.85"/>
<line x1="292.60" y1="343.00" x2="292.60" y2="354.00" stroke="#2a2a2a" stroke-width="1.35" stroke-dasharray="0.9,0.45"/>
<line x1="292.60" y1="360.00" x2="292.60" y2="370.00" stroke="#2a2a2a" stroke-width="1.35" stroke-dasharray="0.9,0.45"/>
<circle cx="292.60" cy="331.20" r="0.6" fill="#666"/>
<circle cx="292.60" cy="336.00" r="0.6" fill="#666"/>
<circle cx="292.60" cy="375.00" r="0.6" fill="#666"/>
<circle cx="292.60" cy="380.00" r="0.6" fill="#666"/>
<circle cx="292.60" cy="385.00" r="0.6" fill="#666"/>
<rect x="286.20" y="355.20" width="12.80" height="4.50" fill="#174c86" stroke="#0c2848" stroke-width="0.85"/>
<line x1="286.20" y1="357.30" x2="299.00" y2="357.30" stroke="#0e2440" stroke-width="0.7"/>
<line x1="310.80" y1="375.00" x2="310.80" y2="331.00" stroke="#555" stroke-width="0.85"/>
<line x1="310.80" y1="345.00" x2="310.80" y2="354.00" stroke="#2a2a2a" stroke-width="1.35" stroke-dasharray="0.9,0.45"/>
<line x1="310.80" y1="360.00" x2="310.80" y2="368.00" stroke="#2a2a2a" stroke-width="1.35" stroke-dasharray="0.9,0.45"/>
<circle cx="310.80" cy="324.50" r="0.6" fill="#666"/>
<circle cx="310.80" cy="328.50" r="0.6" fill="#666"/>
<circle cx="310.80" cy="332.50" r="0.6" fill="#666"/>
<circle cx="310.80" cy="336.50" r="0.6" fill="#666"/>
<circle cx="310.80" cy="340.50" r="0.6" fill="#666"/>
<circle cx="310.80" cy="373.00" r="0.6" fill="#666"/>
<circle cx="310.80" cy="376.00" r="0.6" fill="#666"/>
<circle cx="310.80" cy="378.80" r="0.6" fill="#666"/>
<rect x="304.10" y="355.60" width="13.40" height="4.10" fill="#c80a2c" stroke="#7a0a1e" stroke-width="0.85"/>
<line x1="304.10" y1="357.30" x2="317.50" y2="357.30" stroke="#700818" stroke-width="0.7"/>
<text x="296.60" y="332.20" font-size="6.4" textLength="9.10" lengthAdjust="spacingAndGlyphs">NS</text>
<text transform="translate(295.10,399.40) rotate(-45)" x="0" y="0" font-size="7.6" text-anchor="end" textLength="19.30" lengthAdjust="spacingAndGlyphs">Control</text>
<text transform="translate(313.30,399.40) rotate(-45)" x="0" y="0" font-size="7.6" text-anchor="end" textLength="28.80" lengthAdjust="spacingAndGlyphs">BCAA-free</text>
<line x1="343.20" y1="322.40" x2="343.20" y2="387.60" stroke="#262626" stroke-width="1.0"/>
<line x1="343.20" y1="387.60" x2="382.10" y2="387.60" stroke="#262626" stroke-width="1.0"/>
<line x1="340.20" y1="335.20" x2="343.20" y2="335.20" stroke="#333" stroke-width="0.8"/>
<text x="337.30" y="337.50" font-size="6.4" text-anchor="end">2.0</text>
<line x1="340.20" y1="361.40" x2="343.20" y2="361.40" stroke="#333" stroke-width="0.8"/>
<text x="337.30" y="363.70" font-size="6.4" text-anchor="end">0</text>
<line x1="340.20" y1="387.30" x2="343.20" y2="387.30" stroke="#333" stroke-width="0.8"/>
<text x="337.30" y="389.60" font-size="6.4" text-anchor="end">−2.0</text>
<line x1="354.00" y1="387.60" x2="354.00" y2="390.40" stroke="#333" stroke-width="0.8"/>
<line x1="371.80" y1="387.60" x2="371.80" y2="390.40" stroke="#333" stroke-width="0.8"/>
<line x1="354.00" y1="375.30" x2="354.00" y2="325.70" stroke="#555" stroke-width="0.85"/>
<circle cx="354.00" cy="385.20" r="0.6" fill="#666"/>
<rect x="347.60" y="341.50" width="12.80" height="16.60" fill="#174c86" stroke="#0c2848" stroke-width="0.85"/>
<line x1="347.60" y1="350.00" x2="360.40" y2="350.00" stroke="#0e2440" stroke-width="0.7"/>
<line x1="371.80" y1="372.90" x2="371.80" y2="332.20" stroke="#555" stroke-width="0.85"/>
<circle cx="371.80" cy="376.10" r="0.6" fill="#666"/>
<rect x="365.20" y="346.40" width="13.20" height="12.50" fill="#c80a2c" stroke="#7a0a1e" stroke-width="0.85"/>
<line x1="365.20" y1="352.50" x2="378.40" y2="352.50" stroke="#700818" stroke-width="0.7"/>
<line x1="354.00" y1="329.30" x2="372.00" y2="329.30" stroke="#333" stroke-width="0.8"/>
<text x="359.00" y="329.30" font-size="6.4" textLength="8.00" lengthAdjust="spacingAndGlyphs">***</text>
<text x="357.40" y="386.56" font-size="4.6" textLength="22.80" lengthAdjust="spacingAndGlyphs" class="lt2"><tspan font-style="italic">P</tspan> = .00012</text>
<text transform="translate(356.50,398.90) rotate(-45)" x="0" y="0" font-size="7.6" text-anchor="end" textLength="19.30" lengthAdjust="spacingAndGlyphs">Control</text>
<text transform="translate(374.30,398.90) rotate(-45)" x="0" y="0" font-size="7.6" text-anchor="end" textLength="28.80" lengthAdjust="spacingAndGlyphs">BCAA-free</text>
</svg></body></html>
